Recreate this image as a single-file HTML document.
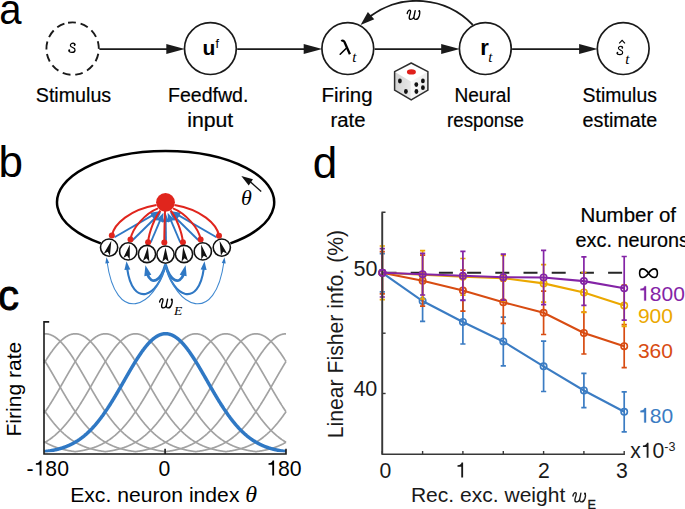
<!DOCTYPE html>
<html><head><meta charset="utf-8"><style>
html,body{margin:0;padding:0;background:#fff;width:685px;height:509px;overflow:hidden;font-family:"Liberation Sans",sans-serif;}
svg{display:block;}
</style></head><body>
<svg width="685" height="509" viewBox="0 0 685 509"><text x="0" y="0" font-family="'Liberation Sans', sans-serif" font-size="42.2" fill="#000" transform="translate(-0.8,24.0) scale(0.95,1)">a</text>
<circle cx="72.6" cy="48.6" r="26.2" fill="none" stroke="#1a1a1a" stroke-width="1.9" stroke-dasharray="7.9 4.75" transform="rotate(-100 72.6 48.6)"/>
<circle cx="210.4" cy="48.6" r="25.9" fill="none" stroke="#1a1a1a" stroke-width="1.7"/>
<circle cx="347.8" cy="48.6" r="25.9" fill="none" stroke="#1a1a1a" stroke-width="1.7"/>
<circle cx="485.3" cy="48.6" r="25.9" fill="none" stroke="#1a1a1a" stroke-width="1.7"/>
<circle cx="623.2" cy="48.6" r="25.9" fill="none" stroke="#1a1a1a" stroke-width="1.7"/>
<line x1="99.4" y1="49.1" x2="168.3" y2="49.1" stroke="#1a1a1a" stroke-width="1.7"/>
<path d="M184.8,49.1 L166.3,44.1 L166.3,54.1 Z" fill="#1a1a1a"/>
<line x1="237.20000000000002" y1="49.1" x2="305.70000000000005" y2="49.1" stroke="#1a1a1a" stroke-width="1.7"/>
<path d="M322.20000000000005,49.1 L303.70000000000005,44.1 L303.70000000000005,54.1 Z" fill="#1a1a1a"/>
<line x1="374.59999999999997" y1="49.1" x2="443.20000000000005" y2="49.1" stroke="#1a1a1a" stroke-width="1.7"/>
<path d="M459.70000000000005,49.1 L441.20000000000005,44.1 L441.20000000000005,54.1 Z" fill="#1a1a1a"/>
<line x1="512.1" y1="49.1" x2="581.1" y2="49.1" stroke="#1a1a1a" stroke-width="1.7"/>
<path d="M597.6,49.1 L579.1,44.1 L579.1,54.1 Z" fill="#1a1a1a"/>
<path d="M472.80,24.89 A77.6,77.6 0 0 0 370.22,16.36" fill="none" stroke="#1a1a1a" stroke-width="1.9"/>
<path d="M360.60,24.89 L367.89,12.01 L374.26,19.19 Z" fill="#1a1a1a"/>
<g transform="translate(406.8,9.5) scale(1.0,1.0)"><path d="M0.4,4.0 C0.9,1.6 2.2,0.5 3.0,0.7 C3.9,0.9 3.9,2.2 3.5,3.6 C3.0,5.2 2.4,6.6 2.4,8.0 C2.4,9.2 3.2,9.9 4.2,9.9 C5.6,9.9 6.6,8.9 7.1,7.6 M8.4,1.2 L7.2,7.0 C6.9,8.6 7.4,9.9 9.0,9.9 C10.6,9.9 11.8,8.4 12.5,6.2 C13.0,4.4 13.2,2.8 12.8,1.6" fill="none" stroke="#000" stroke-width="1.35" stroke-linecap="round"/><ellipse cx="12.45" cy="1.7" rx="0.95" ry="1.1" fill="#000"/></g>
<g transform="translate(68.0,42.9) scale(0.95)"><path d="M7.3,2.1 C7.6,1.0 6.6,0.35 5.4,0.35 C3.6,0.35 2.4,1.4 2.5,2.7 C2.6,4.0 3.9,4.4 5.2,4.9 C6.6,5.4 7.5,6.2 7.4,7.6 C7.3,9.2 5.8,10.0 4.2,10.0 C2.4,10.0 0.9,9.3 0.7,8.0" fill="none" stroke="#000" stroke-width="1.3"/><circle cx="6.95" cy="2.2" r="0.95" fill="#000"/><circle cx="1.35" cy="7.7" r="1.0" fill="#000"/></g>
<text x="202.6" y="55.4" font-family="'Liberation Sans', sans-serif" font-weight="bold" font-size="21" fill="#000">u</text>
<text x="215.4" y="47.8" font-family="'Liberation Sans', sans-serif" font-size="12.6" fill="#000">f</text>
<g transform="translate(339.3,40.2)"><path d="M2.0,1.0 C3.4,-0.1 4.6,0.5 5.3,2.1 L10.6,14.0" fill="none" stroke="#000" stroke-width="2.3"/><path d="M7.0,8.0 L0.9,14.0" fill="none" stroke="#000" stroke-width="1.6" stroke-linecap="round"/></g>
<text x="352.2" y="62" font-family="'Liberation Serif', serif" font-style="italic" font-size="15" fill="#000">t</text>
<text x="480.2" y="54.6" font-family="'Liberation Sans', sans-serif" font-weight="bold" font-size="22" fill="#000">r</text>
<text x="488.2" y="62" font-family="'Liberation Serif', serif" font-style="italic" font-size="15" fill="#000">t</text>
<g transform="translate(616.3,46.0) scale(0.86)"><path d="M7.3,2.1 C7.6,1.0 6.6,0.35 5.4,0.35 C3.6,0.35 2.4,1.4 2.5,2.7 C2.6,4.0 3.9,4.4 5.2,4.9 C6.6,5.4 7.5,6.2 7.4,7.6 C7.3,9.2 5.8,10.0 4.2,10.0 C2.4,10.0 0.9,9.3 0.7,8.0" fill="none" stroke="#000" stroke-width="1.3"/><circle cx="6.95" cy="2.2" r="0.95" fill="#000"/><circle cx="1.35" cy="7.7" r="1.0" fill="#000"/></g>
<path d="M619.2,43.4 L622.1,40.4 L625,43.4" fill="none" stroke="#000" stroke-width="1.1"/>
<text x="625.3" y="63.8" font-family="'Liberation Serif', serif" font-style="italic" font-size="15" fill="#000">t</text>
<text x="35.8" y="101.8" font-family="'Liberation Sans', sans-serif" font-size="20" fill="#000" textLength="75.36" lengthAdjust="spacingAndGlyphs" stroke="#000" stroke-width="0.2">Stimulus</text>
<text x="168" y="101.8" font-family="'Liberation Sans', sans-serif" font-size="20" fill="#000" textLength="80.41" lengthAdjust="spacingAndGlyphs" stroke="#000" stroke-width="0.2">Feedfwd.</text>
<text x="321.5" y="101.8" font-family="'Liberation Sans', sans-serif" font-size="20" fill="#000" textLength="51.02" lengthAdjust="spacingAndGlyphs" stroke="#000" stroke-width="0.2">Firing</text>
<text x="454.4" y="101.8" font-family="'Liberation Sans', sans-serif" font-size="20" fill="#000" textLength="56.24" lengthAdjust="spacingAndGlyphs" stroke="#000" stroke-width="0.2">Neural</text>
<text x="582.6" y="101.8" font-family="'Liberation Sans', sans-serif" font-size="20" fill="#000" textLength="74.31" lengthAdjust="spacingAndGlyphs" stroke="#000" stroke-width="0.2">Stimulus</text>
<text x="187.2" y="126.8" font-family="'Liberation Sans', sans-serif" font-size="20" fill="#000" textLength="46.09" lengthAdjust="spacingAndGlyphs" stroke="#000" stroke-width="0.2">input</text>
<text x="330.5" y="126.8" font-family="'Liberation Sans', sans-serif" font-size="20" fill="#000" textLength="34.96" lengthAdjust="spacingAndGlyphs" stroke="#000" stroke-width="0.2">rate</text>
<text x="447.1" y="126.8" font-family="'Liberation Sans', sans-serif" font-size="20" fill="#000" textLength="76.86" lengthAdjust="spacingAndGlyphs" stroke="#000" stroke-width="0.2">response</text>
<text x="582.6" y="126.8" font-family="'Liberation Sans', sans-serif" font-size="20" fill="#000" textLength="74.59" lengthAdjust="spacingAndGlyphs" stroke="#000" stroke-width="0.2">estimate</text>
<defs><linearGradient id="dl" x1="0" y1="0" x2="1" y2="0.3"><stop offset="0" stop-color="#cfcfcf"/><stop offset="1" stop-color="#e6e6e6"/></linearGradient>
<linearGradient id="dr" x1="0" y1="0" x2="1" y2="0"><stop offset="0" stop-color="#f7f7f7"/><stop offset="1" stop-color="#ececec"/></linearGradient></defs>
<g>
<path d="M411.2,63.0 L427.9,71.6 L427.9,90.2 L411.2,99.9 L394.6,90.2 L394.6,71.6 Z" fill="#fff" stroke="#fff" stroke-width="1"/>
<path d="M394.6,71.8 L410.9,81.6 L410.9,99.9 L394.6,90.2 Z" fill="url(#dl)"/>
<path d="M410.9,81.6 L427.9,71.8 L427.9,90.2 L410.9,99.9 Z" fill="url(#dr)"/>
<path d="M411.2,63.0 L427.9,71.6 L427.9,90.2 L411.2,99.9 L394.6,90.2 L394.6,71.6 Z" fill="none" stroke="#2e2e2e" stroke-width="1.5" stroke-linejoin="round"/>
<ellipse cx="411.4" cy="71.9" rx="4.5" ry="2.7" fill="#e0201b"/>
<ellipse cx="399.9" cy="81" rx="1.9" ry="2.4" fill="#111"/>
<ellipse cx="405.9" cy="91.5" rx="1.9" ry="2.4" fill="#111"/>
<ellipse cx="422.9" cy="80.9" rx="1.9" ry="2.4" fill="#111"/>
<ellipse cx="416.3" cy="84.6" rx="1.9" ry="2.4" fill="#111"/>
<ellipse cx="422.9" cy="87.7" rx="1.9" ry="2.4" fill="#111"/>
<ellipse cx="416.4" cy="91.5" rx="1.9" ry="2.4" fill="#111"/>
</g>
<text x="-1.6" y="177.3" font-family="'Liberation Sans', sans-serif" font-size="44" fill="#000">b</text>
<path d="M100.8,243.4 A108.6,51.3 0 1 1 230.4,243.4" fill="none" stroke="#000" stroke-width="2.5"/>
<line x1="261.2" y1="191.5" x2="250" y2="181.5" stroke="#111" stroke-width="1.4"/>
<path d="M241.30,176.00 L252.97,179.24 L248.74,185.56 Z" fill="#111"/>
<text x="0" y="0" font-family="'Liberation Serif', serif" font-style="italic" font-size="22" fill="#000" transform="translate(240.9,204.9) scale(1.0,1.0)">θ</text>
<line x1="114.5" y1="237.3" x2="154.49" y2="214.17" stroke="#2f78c4" stroke-width="1.9"/>
<path d="M159.69,211.16 L153.42,218.71 L150.02,212.83 Z" fill="#2f78c4"/>
<line x1="132.8" y1="240.0" x2="156.96" y2="216.21" stroke="#2f78c4" stroke-width="1.9"/>
<path d="M161.23,212.00 L157.06,220.88 L152.29,216.04 Z" fill="#2f78c4"/>
<line x1="150.7" y1="242.5" x2="161.06" y2="218.21" stroke="#2f78c4" stroke-width="1.9"/>
<path d="M163.41,212.69 L162.93,222.49 L156.68,219.82 Z" fill="#2f78c4"/>
<line x1="166.0" y1="243.5" x2="165.66" y2="218.90" stroke="#2f78c4" stroke-width="1.9"/>
<path d="M165.57,212.90 L169.10,222.05 L162.30,222.15 Z" fill="#2f78c4"/>
<line x1="180.3" y1="242.5" x2="169.94" y2="218.21" stroke="#2f78c4" stroke-width="1.9"/>
<path d="M167.59,212.69 L174.32,219.82 L168.07,222.49 Z" fill="#2f78c4"/>
<line x1="198.2" y1="240.0" x2="174.04" y2="216.21" stroke="#2f78c4" stroke-width="1.9"/>
<path d="M169.77,212.00 L178.71,216.04 L173.94,220.88 Z" fill="#2f78c4"/>
<line x1="216.5" y1="237.3" x2="176.51" y2="214.17" stroke="#2f78c4" stroke-width="1.9"/>
<path d="M171.31,211.16 L180.98,212.83 L177.58,218.71 Z" fill="#2f78c4"/>
<path d="M111.8,235.6 C114.0,224.0 130.0,209.5 156.5,205.0" fill="none" stroke="#e0251d" stroke-width="2"/>
<path d="M130.5,239.4 C132.0,228.0 146.0,213.0 158.0,208.4" fill="none" stroke="#e0251d" stroke-width="2"/>
<path d="M148.1,242.2 C149.0,232.0 155.0,217.0 160.5,210.5" fill="none" stroke="#e0251d" stroke-width="2"/>
<path d="M164.3,242.4 C164.3,230.0 164.8,218.0 165.0,211.0" fill="none" stroke="#e0251d" stroke-width="2"/>
<path d="M182.9,242.2 C182.0,232.0 176.0,217.0 170.5,210.5" fill="none" stroke="#e0251d" stroke-width="2"/>
<path d="M200.6,239.4 C199.0,228.0 185.0,213.0 173.0,208.4" fill="none" stroke="#e0251d" stroke-width="2"/>
<path d="M219.0,235.8 C217.0,224.0 201.0,209.5 174.5,205.0" fill="none" stroke="#e0251d" stroke-width="2"/>
<circle cx="165.5" cy="202.3" r="9.4" fill="#e0251d"/>
<circle cx="111.8" cy="235.6" r="3.0" fill="#e0251d"/>
<circle cx="130.5" cy="239.4" r="3.0" fill="#e0251d"/>
<circle cx="148.1" cy="242.2" r="3.0" fill="#e0251d"/>
<circle cx="164.3" cy="242.4" r="3.0" fill="#e0251d"/>
<circle cx="182.9" cy="242.2" r="3.0" fill="#e0251d"/>
<circle cx="200.6" cy="239.4" r="3.0" fill="#e0251d"/>
<circle cx="219.0" cy="235.8" r="3.0" fill="#e0251d"/>
<circle cx="109.1" cy="247.6" r="8.6" fill="#fff" stroke="#111" stroke-width="1.6"/>
<path d="M0,-7.2 L3.3,7.5 L0,4.4 L-3.3,7.5 Z" fill="#111" transform="translate(109.1,247.6) rotate(18)"/>
<circle cx="128.2" cy="251.4" r="8.6" fill="#fff" stroke="#111" stroke-width="1.6"/>
<path d="M0,-7.2 L3.3,7.5 L0,4.4 L-3.3,7.5 Z" fill="#111" transform="translate(128.2,251.4) rotate(13)"/>
<circle cx="147.0" cy="254.0" r="8.6" fill="#fff" stroke="#111" stroke-width="1.6"/>
<path d="M0,-7.2 L3.3,7.5 L0,4.4 L-3.3,7.5 Z" fill="#111" transform="translate(147.0,254.0) rotate(6.5)"/>
<circle cx="165.5" cy="254.6" r="8.6" fill="#fff" stroke="#111" stroke-width="1.6"/>
<path d="M0,-7.2 L3.3,7.5 L0,4.4 L-3.3,7.5 Z" fill="#111" transform="translate(165.5,254.6) rotate(0)"/>
<circle cx="184.0" cy="254.0" r="8.6" fill="#fff" stroke="#111" stroke-width="1.6"/>
<path d="M0,-7.2 L3.3,7.5 L0,4.4 L-3.3,7.5 Z" fill="#111" transform="translate(184.0,254.0) rotate(-6.5)"/>
<circle cx="202.8" cy="251.4" r="8.6" fill="#fff" stroke="#111" stroke-width="1.6"/>
<path d="M0,-7.2 L3.3,7.5 L0,4.4 L-3.3,7.5 Z" fill="#111" transform="translate(202.8,251.4) rotate(-13)"/>
<circle cx="221.8" cy="247.6" r="8.6" fill="#fff" stroke="#111" stroke-width="1.6"/>
<path d="M0,-7.2 L3.3,7.5 L0,4.4 L-3.3,7.5 Z" fill="#111" transform="translate(221.8,247.6) rotate(-18)"/>
<path d="M165.5,264.6 C160.91,281.22 151.50,285.70 147.25,274.10" fill="none" stroke="#2f78c4" stroke-width="2.8"/>
<path d="M145.40,265.30 L151.33,274.68 L144.32,276.35 Z" fill="#2f78c4"/>
<path d="M165.5,264.6 C170.09,281.22 179.50,285.70 183.75,274.10" fill="none" stroke="#2f78c4" stroke-width="2.8"/>
<path d="M185.60,265.30 L186.68,276.35 L179.67,274.68 Z" fill="#2f78c4"/>
<path d="M165.5,264.6 C158.38,298.19 132.35,308.01 127.15,268.16" fill="none" stroke="#2f78c4" stroke-width="2.1"/>
<path d="M126.50,261.30 L130.35,269.45 L124.39,270.06 Z" fill="#2f78c4"/>
<path d="M165.5,264.6 C172.62,298.19 198.65,308.01 203.85,268.16" fill="none" stroke="#2f78c4" stroke-width="2.1"/>
<path d="M204.50,261.30 L206.61,270.06 L200.65,269.45 Z" fill="#2f78c4"/>
<path d="M165.5,264.6 C155.23,308.51 115.79,325.74 107.04,261.74" fill="none" stroke="#3f88d0" stroke-width="1.05"/>
<path d="M106.50,257.30 L109.24,263.00 L105.27,263.50 Z" fill="#2f78c4"/>
<path d="M165.5,264.6 C175.77,308.51 215.21,325.74 223.96,261.74" fill="none" stroke="#3f88d0" stroke-width="1.05"/>
<path d="M224.50,257.30 L225.73,263.50 L221.76,263.00 Z" fill="#2f78c4"/>
<g transform="translate(159.2,298.0) scale(1.0,1.0)"><path d="M0.4,4.0 C0.9,1.6 2.2,0.5 3.0,0.7 C3.9,0.9 3.9,2.2 3.5,3.6 C3.0,5.2 2.4,6.6 2.4,8.0 C2.4,9.2 3.2,9.9 4.2,9.9 C5.6,9.9 6.6,8.9 7.1,7.6 M8.4,1.2 L7.2,7.0 C6.9,8.6 7.4,9.9 9.0,9.9 C10.6,9.9 11.8,8.4 12.5,6.2 C13.0,4.4 13.2,2.8 12.8,1.6" fill="none" stroke="#000" stroke-width="1.35" stroke-linecap="round"/><ellipse cx="12.45" cy="1.7" rx="0.95" ry="1.1" fill="#000"/></g>
<text x="173.9" y="315.2" font-family="'Liberation Serif', serif" font-style="italic" font-size="13.5" fill="#000">E</text>
<text x="-1.9" y="310.1" font-family="'Liberation Sans', sans-serif" font-size="42" fill="#000" stroke="#000" stroke-width="0.9">c</text>
<polyline points="44.13,333.84 45.20,333.80 45.53,333.80 45.87,333.82 46.20,333.83 46.54,333.86 46.87,333.90 47.20,333.94 47.54,333.99 47.87,334.05 48.21,334.11 48.54,334.19 48.88,334.27 49.21,334.36 49.55,334.46 49.88,334.56 50.21,334.67 50.55,334.79 50.88,334.92 51.22,335.05 51.55,335.20 51.89,335.35 52.22,335.50 52.56,335.67 52.89,335.84 53.22,336.02 53.56,336.21 53.89,336.40 54.23,336.60 54.56,336.81 54.90,337.03 55.23,337.25 55.57,337.48 55.90,337.72 56.23,337.96 56.57,338.21 56.90,338.47 57.24,338.74 57.57,339.01 57.91,339.29 58.24,339.57 58.58,339.86 58.91,340.16 59.24,340.47 59.58,340.78 59.91,341.10 60.25,341.42 60.58,341.75 60.92,342.09 61.25,342.43 61.59,342.78 61.92,343.14 62.25,343.50 62.59,343.87 62.92,344.24 63.26,344.62 63.59,345.00 63.93,345.40 64.26,345.79 64.60,346.19 64.93,346.60 65.26,347.01 65.60,347.43 65.93,347.85 66.27,348.28 66.60,348.71 66.94,349.15 67.27,349.60 67.61,350.04 67.94,350.50 68.28,350.95 68.61,351.42 68.94,351.88 69.28,352.35 69.61,352.83 69.95,353.31 70.28,353.79 70.62,354.28 70.95,354.77 71.29,355.27 71.62,355.77 71.95,356.27 72.29,356.78 72.62,357.29 72.96,357.80 73.29,358.32 73.63,358.84 73.96,359.37 74.30,359.89 74.63,360.42 74.96,360.96 75.30,361.50 75.63,362.03 75.97,362.58 76.30,363.12 76.64,363.67 76.97,364.22 77.31,364.77 77.64,365.32 77.97,365.88 78.31,366.44 78.64,367.00 78.98,367.56 79.31,368.13 79.65,368.70 79.98,369.26 80.32,369.83 80.65,370.41 80.98,370.98 81.32,371.55 81.65,372.13 81.99,372.70 82.32,373.28 82.66,373.86 82.99,374.44 83.33,375.02 83.66,375.60 83.99,376.19 84.33,376.77 84.66,377.35 85.00,377.94 85.33,378.52 85.67,379.10 86.00,379.69 86.34,380.27 86.67,380.86 87.00,381.44 87.34,382.03 87.67,382.61 88.01,383.20 88.34,383.78 88.68,384.37 89.01,384.95 89.35,385.53 89.68,386.11 90.01,386.70 90.35,387.28 90.68,387.86 91.02,388.44 91.35,389.02 91.69,389.59 92.02,390.17 92.36,390.74 92.69,391.32 93.02,391.89 93.36,392.46 93.69,393.03 94.03,393.60 94.36,394.17 94.70,394.73 95.03,395.30 95.37,395.86 95.70,396.42 96.03,396.98 96.37,397.54 96.70,398.09 97.04,398.64 97.37,399.19 97.71,399.74 98.04,400.29 98.38,400.83 98.71,401.38 99.04,401.92 99.38,402.46 99.71,402.99 100.05,403.52 100.38,404.05 100.72,404.58 101.05,405.11 101.39,405.63 101.72,406.15 102.05,406.67 102.39,407.19 102.72,407.70 103.06,408.21 103.39,408.72 103.73,409.22 104.06,409.72 104.40,410.22 104.73,410.72 105.06,411.21 105.40,411.70 105.73,412.18 106.07,412.67 106.40,413.15 106.74,413.63 107.07,414.10 107.41,414.57 107.74,415.04 108.07,415.50 108.41,415.97 108.74,416.42 109.08,416.88 109.41,417.33 109.75,417.78 110.08,418.23 110.42,418.67 110.75,419.11 111.08,419.54 111.42,419.97 111.75,420.40 112.09,420.83 112.42,421.25 112.76,421.67 113.09,422.08 113.43,422.50 113.76,422.90 114.09,423.31 114.43,423.71 114.76,424.11 115.10,424.50 115.43,424.89 115.77,425.28 116.10,425.67 116.44,426.05 116.77,426.42 117.10,426.80 117.44,427.17 117.77,427.53 118.11,427.90 118.44,428.26 118.78,428.61 119.11,428.97 119.45,429.32 119.78,429.66 120.11,430.01 120.45,430.34 120.78,430.68 121.12,431.01 121.45,431.34 121.79,431.67 122.12,431.99 122.46,432.31 122.79,432.62 123.12,432.93 123.46,433.24 123.79,433.55 124.13,433.85 124.46,434.15 124.80,434.44 125.13,434.73 125.47,435.02 125.80,435.31 126.13,435.59 126.47,435.87 126.80,436.14 127.14,436.42 127.47,436.69 127.81,436.95 128.14,437.21 128.48,437.47 128.81,437.73 129.14,437.98 129.48,438.23 129.81,438.48 130.15,438.72 130.48,438.96 130.82,439.20 131.15,439.44 131.49,439.67 131.82,439.90 132.16,440.12 132.49,440.35 132.82,440.57 133.16,440.78 133.49,441.00 133.83,441.21 134.16,441.42 134.50,441.63 134.83,441.83 135.17,442.03 135.50,442.23 135.83,442.42 136.17,442.61 136.50,442.80 136.84,442.99 137.17,443.17 137.51,443.36 137.84,443.53 138.18,443.71 138.51,443.88 138.84,444.06 139.18,444.22 139.51,444.39 139.85,444.56 140.18,444.72 140.52,444.88 140.85,445.03 141.19,445.19 141.52,445.34 141.85,445.49 142.19,445.64 142.52,445.78 142.86,445.93 143.19,446.07 143.53,446.20 143.86,446.34 144.20,446.48 144.53,446.61 144.86,446.74 145.20,446.87 145.53,446.99 145.87,447.12 146.20,447.24 146.54,447.36 146.87,447.48 147.21,447.59 147.54,447.71 147.87,447.82 148.21,447.93 148.54,448.04 148.88,448.15 149.21,448.25 149.55,448.35 149.88,448.46 150.22,448.55 150.55,448.65 150.88,448.75 151.22,448.84 151.55,448.94 151.89,449.03 152.22,449.12 152.56,449.21 152.89,449.29 153.23,449.38 153.56,449.46 153.89,449.54 154.23,449.63 154.56,449.70 154.90,449.78 155.23,449.86 155.57,449.93 155.90,450.01 156.24,450.08 156.57,450.15 156.90,450.22 157.24,450.29 157.57,450.36 157.91,450.42 158.24,450.49 158.58,450.55 158.91,450.61 159.25,450.67 159.58,450.73 159.91,450.79 160.25,450.85 160.58,450.91 160.92,450.96 161.25,451.02 161.59,451.07 161.92,451.12 162.26,451.17 162.59,451.22 162.92,451.27 163.26,451.32 163.59,451.37 163.93,451.41 164.26,451.46 164.60,451.50 164.93,451.55 165.27,451.59 165.60,451.63 165.93,451.59 166.27,451.55 166.60,451.50 166.94,451.46 167.27,451.41 167.61,451.37 167.94,451.32 168.28,451.27 168.61,451.22 168.94,451.17 169.28,451.12 169.61,451.07 169.95,451.02 170.28,450.96 170.62,450.91 170.95,450.85 171.29,450.79 171.62,450.73 171.95,450.67 172.29,450.61 172.62,450.55 172.96,450.49 173.29,450.42 173.63,450.36 173.96,450.29 174.30,450.22 174.63,450.15 174.96,450.08 175.30,450.01 175.63,449.93 175.97,449.86 176.30,449.78 176.64,449.70 176.97,449.63 177.31,449.54 177.64,449.46 177.97,449.38 178.31,449.29 178.64,449.21 178.98,449.12 179.31,449.03 179.65,448.94 179.98,448.84 180.32,448.75 180.65,448.65 180.98,448.55 181.32,448.46 181.65,448.35 181.99,448.25 182.32,448.15 182.66,448.04 182.99,447.93 183.33,447.82 183.66,447.71 183.99,447.59 184.33,447.48 184.66,447.36 185.00,447.24 185.33,447.12 185.67,446.99 186.00,446.87 186.34,446.74 186.67,446.61 187.00,446.48 187.34,446.34 187.67,446.20 188.01,446.07 188.34,445.93 188.68,445.78 189.01,445.64 189.35,445.49 189.68,445.34 190.01,445.19 190.35,445.03 190.68,444.88 191.02,444.72 191.35,444.56 191.69,444.39 192.02,444.22 192.36,444.06 192.69,443.88 193.02,443.71 193.36,443.53 193.69,443.36 194.03,443.17 194.36,442.99 194.70,442.80 195.03,442.61 195.37,442.42 195.70,442.23 196.03,442.03 196.37,441.83 196.70,441.63 197.04,441.42 197.37,441.21 197.71,441.00 198.04,440.78 198.38,440.57 198.71,440.35 199.04,440.12 199.38,439.90 199.71,439.67 200.05,439.44 200.38,439.20 200.72,438.96 201.05,438.72 201.39,438.48 201.72,438.23 202.06,437.98 202.39,437.73 202.72,437.47 203.06,437.21 203.39,436.95 203.73,436.69 204.06,436.42 204.40,436.14 204.73,435.87 205.07,435.59 205.40,435.31 205.73,435.02 206.07,434.73 206.40,434.44 206.74,434.15 207.07,433.85 207.41,433.55 207.74,433.24 208.08,432.93 208.41,432.62 208.74,432.31 209.08,431.99 209.41,431.67 209.75,431.34 210.08,431.01 210.42,430.68 210.75,430.34 211.09,430.01 211.42,429.66 211.75,429.32 212.09,428.97 212.42,428.61 212.76,428.26 213.09,427.90 213.43,427.53 213.76,427.17 214.10,426.80 214.43,426.42 214.76,426.05 215.10,425.67 215.43,425.28 215.77,424.89 216.10,424.50 216.44,424.11 216.77,423.71 217.11,423.31 217.44,422.90 217.77,422.50 218.11,422.08 218.44,421.67 218.78,421.25 219.11,420.83 219.45,420.40 219.78,419.97 220.12,419.54 220.45,419.11 220.78,418.67 221.12,418.23 221.45,417.78 221.79,417.33 222.12,416.88 222.46,416.42 222.79,415.97 223.13,415.50 223.46,415.04 223.79,414.57 224.13,414.10 224.46,413.63 224.80,413.15 225.13,412.67 225.47,412.18 225.80,411.70 226.14,411.21 226.47,410.72 226.80,410.22 227.14,409.72 227.47,409.22 227.81,408.72 228.14,408.21 228.48,407.70 228.81,407.19 229.15,406.67 229.48,406.15 229.81,405.63 230.15,405.11 230.48,404.58 230.82,404.05 231.15,403.52 231.49,402.99 231.82,402.46 232.16,401.92 232.49,401.38 232.82,400.83 233.16,400.29 233.49,399.74 233.83,399.19 234.16,398.64 234.50,398.09 234.83,397.54 235.17,396.98 235.50,396.42 235.83,395.86 236.17,395.30 236.50,394.73 236.84,394.17 237.17,393.60 237.51,393.03 237.84,392.46 238.18,391.89 238.51,391.32 238.84,390.74 239.18,390.17 239.51,389.59 239.85,389.02 240.18,388.44 240.52,387.86 240.85,387.28 241.19,386.70 241.52,386.11 241.85,385.53 242.19,384.95 242.52,384.37 242.86,383.78 243.19,383.20 243.53,382.61 243.86,382.03 244.20,381.44 244.53,380.86 244.86,380.27 245.20,379.69 245.53,379.10 245.87,378.52 246.20,377.94 246.54,377.35 246.87,376.77 247.21,376.19 247.54,375.60 247.87,375.02 248.21,374.44 248.54,373.86 248.88,373.28 249.21,372.70 249.55,372.13 249.88,371.55 250.22,370.98 250.55,370.41 250.88,369.83 251.22,369.26 251.55,368.70 251.89,368.13 252.22,367.56 252.56,367.00 252.89,366.44 253.23,365.88 253.56,365.32 253.89,364.77 254.23,364.22 254.56,363.67 254.90,363.12 255.23,362.58 255.57,362.03 255.90,361.50 256.24,360.96 256.57,360.42 256.90,359.89 257.24,359.37 257.57,358.84 257.91,358.32 258.24,357.80 258.58,357.29 258.91,356.78 259.25,356.27 259.58,355.77 259.91,355.27 260.25,354.77 260.58,354.28 260.92,353.79 261.25,353.31 261.59,352.83 261.92,352.35 262.26,351.88 262.59,351.42 262.92,350.95 263.26,350.50 263.59,350.04 263.93,349.60 264.26,349.15 264.60,348.71 264.93,348.28 265.27,347.85 265.60,347.43 265.94,347.01 266.27,346.60 266.60,346.19 266.94,345.79 267.27,345.40 267.61,345.00 267.94,344.62 268.28,344.24 268.61,343.87 268.95,343.50 269.28,343.14 269.61,342.78 269.95,342.43 270.28,342.09 270.62,341.75 270.95,341.42 271.29,341.10 271.62,340.78 271.96,340.47 272.29,340.16 272.62,339.86 272.96,339.57 273.29,339.29 273.63,339.01 273.96,338.74 274.30,338.47 274.63,338.21 274.97,337.96 275.30,337.72 275.63,337.48 275.97,337.25 276.30,337.03 276.64,336.81 276.97,336.60 277.31,336.40 277.64,336.21 277.98,336.02 278.31,335.84 278.64,335.67 278.98,335.50 279.31,335.35 279.65,335.20 279.98,335.05 280.32,334.92 280.65,334.79 280.99,334.67 281.32,334.56 281.65,334.46 281.99,334.36 282.32,334.27 282.66,334.19 282.99,334.11 283.33,334.05 283.66,333.99 284.00,333.94 284.33,333.90 284.66,333.86 285.00,333.83 285.33,333.82 285.67,333.80 286.00,333.80" fill="none" stroke="#a2a2a2" stroke-width="1.7"/>
<polyline points="44.13,363.23 45.20,361.50 45.53,360.96 45.87,360.42 46.20,359.89 46.54,359.37 46.87,358.84 47.20,358.32 47.54,357.80 47.87,357.29 48.21,356.78 48.54,356.27 48.88,355.77 49.21,355.27 49.55,354.77 49.88,354.28 50.21,353.79 50.55,353.31 50.88,352.83 51.22,352.35 51.55,351.88 51.89,351.42 52.22,350.95 52.56,350.50 52.89,350.04 53.22,349.60 53.56,349.15 53.89,348.71 54.23,348.28 54.56,347.85 54.90,347.43 55.23,347.01 55.57,346.60 55.90,346.19 56.23,345.79 56.57,345.40 56.90,345.00 57.24,344.62 57.57,344.24 57.91,343.87 58.24,343.50 58.58,343.14 58.91,342.78 59.24,342.43 59.58,342.09 59.91,341.75 60.25,341.42 60.58,341.10 60.92,340.78 61.25,340.47 61.59,340.16 61.92,339.86 62.25,339.57 62.59,339.29 62.92,339.01 63.26,338.74 63.59,338.47 63.93,338.21 64.26,337.96 64.60,337.72 64.93,337.48 65.26,337.25 65.60,337.03 65.93,336.81 66.27,336.60 66.60,336.40 66.94,336.21 67.27,336.02 67.61,335.84 67.94,335.67 68.28,335.50 68.61,335.35 68.94,335.20 69.28,335.05 69.61,334.92 69.95,334.79 70.28,334.67 70.62,334.56 70.95,334.46 71.29,334.36 71.62,334.27 71.95,334.19 72.29,334.11 72.62,334.05 72.96,333.99 73.29,333.94 73.63,333.90 73.96,333.86 74.30,333.83 74.63,333.82 74.96,333.80 75.30,333.80 75.63,333.80 75.97,333.82 76.30,333.83 76.64,333.86 76.97,333.90 77.31,333.94 77.64,333.99 77.97,334.05 78.31,334.11 78.64,334.19 78.98,334.27 79.31,334.36 79.65,334.46 79.98,334.56 80.32,334.67 80.65,334.79 80.98,334.92 81.32,335.05 81.65,335.20 81.99,335.35 82.32,335.50 82.66,335.67 82.99,335.84 83.33,336.02 83.66,336.21 83.99,336.40 84.33,336.60 84.66,336.81 85.00,337.03 85.33,337.25 85.67,337.48 86.00,337.72 86.34,337.96 86.67,338.21 87.00,338.47 87.34,338.74 87.67,339.01 88.01,339.29 88.34,339.57 88.68,339.86 89.01,340.16 89.35,340.47 89.68,340.78 90.01,341.10 90.35,341.42 90.68,341.75 91.02,342.09 91.35,342.43 91.69,342.78 92.02,343.14 92.36,343.50 92.69,343.87 93.02,344.24 93.36,344.62 93.69,345.00 94.03,345.40 94.36,345.79 94.70,346.19 95.03,346.60 95.37,347.01 95.70,347.43 96.03,347.85 96.37,348.28 96.70,348.71 97.04,349.15 97.37,349.60 97.71,350.04 98.04,350.50 98.38,350.95 98.71,351.42 99.04,351.88 99.38,352.35 99.71,352.83 100.05,353.31 100.38,353.79 100.72,354.28 101.05,354.77 101.39,355.27 101.72,355.77 102.05,356.27 102.39,356.78 102.72,357.29 103.06,357.80 103.39,358.32 103.73,358.84 104.06,359.37 104.40,359.89 104.73,360.42 105.06,360.96 105.40,361.50 105.73,362.03 106.07,362.58 106.40,363.12 106.74,363.67 107.07,364.22 107.41,364.77 107.74,365.32 108.07,365.88 108.41,366.44 108.74,367.00 109.08,367.56 109.41,368.13 109.75,368.70 110.08,369.26 110.42,369.83 110.75,370.41 111.08,370.98 111.42,371.55 111.75,372.13 112.09,372.70 112.42,373.28 112.76,373.86 113.09,374.44 113.43,375.02 113.76,375.60 114.09,376.19 114.43,376.77 114.76,377.35 115.10,377.94 115.43,378.52 115.77,379.10 116.10,379.69 116.44,380.27 116.77,380.86 117.10,381.44 117.44,382.03 117.77,382.61 118.11,383.20 118.44,383.78 118.78,384.37 119.11,384.95 119.45,385.53 119.78,386.11 120.11,386.70 120.45,387.28 120.78,387.86 121.12,388.44 121.45,389.02 121.79,389.59 122.12,390.17 122.46,390.74 122.79,391.32 123.12,391.89 123.46,392.46 123.79,393.03 124.13,393.60 124.46,394.17 124.80,394.73 125.13,395.30 125.47,395.86 125.80,396.42 126.13,396.98 126.47,397.54 126.80,398.09 127.14,398.64 127.47,399.19 127.81,399.74 128.14,400.29 128.48,400.83 128.81,401.38 129.14,401.92 129.48,402.46 129.81,402.99 130.15,403.52 130.48,404.05 130.82,404.58 131.15,405.11 131.49,405.63 131.82,406.15 132.16,406.67 132.49,407.19 132.82,407.70 133.16,408.21 133.49,408.72 133.83,409.22 134.16,409.72 134.50,410.22 134.83,410.72 135.17,411.21 135.50,411.70 135.83,412.18 136.17,412.67 136.50,413.15 136.84,413.63 137.17,414.10 137.51,414.57 137.84,415.04 138.18,415.50 138.51,415.97 138.84,416.42 139.18,416.88 139.51,417.33 139.85,417.78 140.18,418.23 140.52,418.67 140.85,419.11 141.19,419.54 141.52,419.97 141.85,420.40 142.19,420.83 142.52,421.25 142.86,421.67 143.19,422.08 143.53,422.50 143.86,422.90 144.20,423.31 144.53,423.71 144.86,424.11 145.20,424.50 145.53,424.89 145.87,425.28 146.20,425.67 146.54,426.05 146.87,426.42 147.21,426.80 147.54,427.17 147.87,427.53 148.21,427.90 148.54,428.26 148.88,428.61 149.21,428.97 149.55,429.32 149.88,429.66 150.22,430.01 150.55,430.34 150.88,430.68 151.22,431.01 151.55,431.34 151.89,431.67 152.22,431.99 152.56,432.31 152.89,432.62 153.23,432.93 153.56,433.24 153.89,433.55 154.23,433.85 154.56,434.15 154.90,434.44 155.23,434.73 155.57,435.02 155.90,435.31 156.24,435.59 156.57,435.87 156.90,436.14 157.24,436.42 157.57,436.69 157.91,436.95 158.24,437.21 158.58,437.47 158.91,437.73 159.25,437.98 159.58,438.23 159.91,438.48 160.25,438.72 160.58,438.96 160.92,439.20 161.25,439.44 161.59,439.67 161.92,439.90 162.26,440.12 162.59,440.35 162.92,440.57 163.26,440.78 163.59,441.00 163.93,441.21 164.26,441.42 164.60,441.63 164.93,441.83 165.27,442.03 165.60,442.23 165.93,442.42 166.27,442.61 166.60,442.80 166.94,442.99 167.27,443.17 167.61,443.36 167.94,443.53 168.28,443.71 168.61,443.88 168.94,444.06 169.28,444.22 169.61,444.39 169.95,444.56 170.28,444.72 170.62,444.88 170.95,445.03 171.29,445.19 171.62,445.34 171.95,445.49 172.29,445.64 172.62,445.78 172.96,445.93 173.29,446.07 173.63,446.20 173.96,446.34 174.30,446.48 174.63,446.61 174.96,446.74 175.30,446.87 175.63,446.99 175.97,447.12 176.30,447.24 176.64,447.36 176.97,447.48 177.31,447.59 177.64,447.71 177.97,447.82 178.31,447.93 178.64,448.04 178.98,448.15 179.31,448.25 179.65,448.35 179.98,448.46 180.32,448.55 180.65,448.65 180.98,448.75 181.32,448.84 181.65,448.94 181.99,449.03 182.32,449.12 182.66,449.21 182.99,449.29 183.33,449.38 183.66,449.46 183.99,449.54 184.33,449.63 184.66,449.70 185.00,449.78 185.33,449.86 185.67,449.93 186.00,450.01 186.34,450.08 186.67,450.15 187.00,450.22 187.34,450.29 187.67,450.36 188.01,450.42 188.34,450.49 188.68,450.55 189.01,450.61 189.35,450.67 189.68,450.73 190.01,450.79 190.35,450.85 190.68,450.91 191.02,450.96 191.35,451.02 191.69,451.07 192.02,451.12 192.36,451.17 192.69,451.22 193.02,451.27 193.36,451.32 193.69,451.37 194.03,451.41 194.36,451.46 194.70,451.50 195.03,451.55 195.37,451.59 195.70,451.63 196.03,451.59 196.37,451.55 196.70,451.50 197.04,451.46 197.37,451.41 197.71,451.37 198.04,451.32 198.38,451.27 198.71,451.22 199.04,451.17 199.38,451.12 199.71,451.07 200.05,451.02 200.38,450.96 200.72,450.91 201.05,450.85 201.39,450.79 201.72,450.73 202.06,450.67 202.39,450.61 202.72,450.55 203.06,450.49 203.39,450.42 203.73,450.36 204.06,450.29 204.40,450.22 204.73,450.15 205.07,450.08 205.40,450.01 205.73,449.93 206.07,449.86 206.40,449.78 206.74,449.70 207.07,449.63 207.41,449.54 207.74,449.46 208.08,449.38 208.41,449.29 208.74,449.21 209.08,449.12 209.41,449.03 209.75,448.94 210.08,448.84 210.42,448.75 210.75,448.65 211.09,448.55 211.42,448.46 211.75,448.35 212.09,448.25 212.42,448.15 212.76,448.04 213.09,447.93 213.43,447.82 213.76,447.71 214.10,447.59 214.43,447.48 214.76,447.36 215.10,447.24 215.43,447.12 215.77,446.99 216.10,446.87 216.44,446.74 216.77,446.61 217.11,446.48 217.44,446.34 217.77,446.20 218.11,446.07 218.44,445.93 218.78,445.78 219.11,445.64 219.45,445.49 219.78,445.34 220.12,445.19 220.45,445.03 220.78,444.88 221.12,444.72 221.45,444.56 221.79,444.39 222.12,444.22 222.46,444.06 222.79,443.88 223.13,443.71 223.46,443.53 223.79,443.36 224.13,443.17 224.46,442.99 224.80,442.80 225.13,442.61 225.47,442.42 225.80,442.23 226.14,442.03 226.47,441.83 226.80,441.63 227.14,441.42 227.47,441.21 227.81,441.00 228.14,440.78 228.48,440.57 228.81,440.35 229.15,440.12 229.48,439.90 229.81,439.67 230.15,439.44 230.48,439.20 230.82,438.96 231.15,438.72 231.49,438.48 231.82,438.23 232.16,437.98 232.49,437.73 232.82,437.47 233.16,437.21 233.49,436.95 233.83,436.69 234.16,436.42 234.50,436.14 234.83,435.87 235.17,435.59 235.50,435.31 235.83,435.02 236.17,434.73 236.50,434.44 236.84,434.15 237.17,433.85 237.51,433.55 237.84,433.24 238.18,432.93 238.51,432.62 238.84,432.31 239.18,431.99 239.51,431.67 239.85,431.34 240.18,431.01 240.52,430.68 240.85,430.34 241.19,430.01 241.52,429.66 241.85,429.32 242.19,428.97 242.52,428.61 242.86,428.26 243.19,427.90 243.53,427.53 243.86,427.17 244.20,426.80 244.53,426.42 244.86,426.05 245.20,425.67 245.53,425.28 245.87,424.89 246.20,424.50 246.54,424.11 246.87,423.71 247.21,423.31 247.54,422.90 247.87,422.50 248.21,422.08 248.54,421.67 248.88,421.25 249.21,420.83 249.55,420.40 249.88,419.97 250.22,419.54 250.55,419.11 250.88,418.67 251.22,418.23 251.55,417.78 251.89,417.33 252.22,416.88 252.56,416.42 252.89,415.97 253.23,415.50 253.56,415.04 253.89,414.57 254.23,414.10 254.56,413.63 254.90,413.15 255.23,412.67 255.57,412.18 255.90,411.70 256.24,411.21 256.57,410.72 256.90,410.22 257.24,409.72 257.57,409.22 257.91,408.72 258.24,408.21 258.58,407.70 258.91,407.19 259.25,406.67 259.58,406.15 259.91,405.63 260.25,405.11 260.58,404.58 260.92,404.05 261.25,403.52 261.59,402.99 261.92,402.46 262.26,401.92 262.59,401.38 262.92,400.83 263.26,400.29 263.59,399.74 263.93,399.19 264.26,398.64 264.60,398.09 264.93,397.54 265.27,396.98 265.60,396.42 265.94,395.86 266.27,395.30 266.60,394.73 266.94,394.17 267.27,393.60 267.61,393.03 267.94,392.46 268.28,391.89 268.61,391.32 268.95,390.74 269.28,390.17 269.61,389.59 269.95,389.02 270.28,388.44 270.62,387.86 270.95,387.28 271.29,386.70 271.62,386.11 271.96,385.53 272.29,384.95 272.62,384.37 272.96,383.78 273.29,383.20 273.63,382.61 273.96,382.03 274.30,381.44 274.63,380.86 274.97,380.27 275.30,379.69 275.63,379.10 275.97,378.52 276.30,377.94 276.64,377.35 276.97,376.77 277.31,376.19 277.64,375.60 277.98,375.02 278.31,374.44 278.64,373.86 278.98,373.28 279.31,372.70 279.65,372.13 279.98,371.55 280.32,370.98 280.65,370.41 280.99,369.83 281.32,369.26 281.65,368.70 281.99,368.13 282.32,367.56 282.66,367.00 282.99,366.44 283.33,365.88 283.66,365.32 284.00,364.77 284.33,364.22 284.66,363.67 285.00,363.12 285.33,362.58 285.67,362.03 286.00,361.50" fill="none" stroke="#a2a2a2" stroke-width="1.7"/>
<polyline points="44.13,413.24 45.20,411.70 45.53,411.21 45.87,410.72 46.20,410.22 46.54,409.72 46.87,409.22 47.20,408.72 47.54,408.21 47.87,407.70 48.21,407.19 48.54,406.67 48.88,406.15 49.21,405.63 49.55,405.11 49.88,404.58 50.21,404.05 50.55,403.52 50.88,402.99 51.22,402.46 51.55,401.92 51.89,401.38 52.22,400.83 52.56,400.29 52.89,399.74 53.22,399.19 53.56,398.64 53.89,398.09 54.23,397.54 54.56,396.98 54.90,396.42 55.23,395.86 55.57,395.30 55.90,394.73 56.23,394.17 56.57,393.60 56.90,393.03 57.24,392.46 57.57,391.89 57.91,391.32 58.24,390.74 58.58,390.17 58.91,389.59 59.24,389.02 59.58,388.44 59.91,387.86 60.25,387.28 60.58,386.70 60.92,386.11 61.25,385.53 61.59,384.95 61.92,384.37 62.25,383.78 62.59,383.20 62.92,382.61 63.26,382.03 63.59,381.44 63.93,380.86 64.26,380.27 64.60,379.69 64.93,379.10 65.26,378.52 65.60,377.94 65.93,377.35 66.27,376.77 66.60,376.19 66.94,375.60 67.27,375.02 67.61,374.44 67.94,373.86 68.28,373.28 68.61,372.70 68.94,372.13 69.28,371.55 69.61,370.98 69.95,370.41 70.28,369.83 70.62,369.26 70.95,368.70 71.29,368.13 71.62,367.56 71.95,367.00 72.29,366.44 72.62,365.88 72.96,365.32 73.29,364.77 73.63,364.22 73.96,363.67 74.30,363.12 74.63,362.58 74.96,362.03 75.30,361.50 75.63,360.96 75.97,360.42 76.30,359.89 76.64,359.37 76.97,358.84 77.31,358.32 77.64,357.80 77.97,357.29 78.31,356.78 78.64,356.27 78.98,355.77 79.31,355.27 79.65,354.77 79.98,354.28 80.32,353.79 80.65,353.31 80.98,352.83 81.32,352.35 81.65,351.88 81.99,351.42 82.32,350.95 82.66,350.50 82.99,350.04 83.33,349.60 83.66,349.15 83.99,348.71 84.33,348.28 84.66,347.85 85.00,347.43 85.33,347.01 85.67,346.60 86.00,346.19 86.34,345.79 86.67,345.40 87.00,345.00 87.34,344.62 87.67,344.24 88.01,343.87 88.34,343.50 88.68,343.14 89.01,342.78 89.35,342.43 89.68,342.09 90.01,341.75 90.35,341.42 90.68,341.10 91.02,340.78 91.35,340.47 91.69,340.16 92.02,339.86 92.36,339.57 92.69,339.29 93.02,339.01 93.36,338.74 93.69,338.47 94.03,338.21 94.36,337.96 94.70,337.72 95.03,337.48 95.37,337.25 95.70,337.03 96.03,336.81 96.37,336.60 96.70,336.40 97.04,336.21 97.37,336.02 97.71,335.84 98.04,335.67 98.38,335.50 98.71,335.35 99.04,335.20 99.38,335.05 99.71,334.92 100.05,334.79 100.38,334.67 100.72,334.56 101.05,334.46 101.39,334.36 101.72,334.27 102.05,334.19 102.39,334.11 102.72,334.05 103.06,333.99 103.39,333.94 103.73,333.90 104.06,333.86 104.40,333.83 104.73,333.82 105.06,333.80 105.40,333.80 105.73,333.80 106.07,333.82 106.40,333.83 106.74,333.86 107.07,333.90 107.41,333.94 107.74,333.99 108.07,334.05 108.41,334.11 108.74,334.19 109.08,334.27 109.41,334.36 109.75,334.46 110.08,334.56 110.42,334.67 110.75,334.79 111.08,334.92 111.42,335.05 111.75,335.20 112.09,335.35 112.42,335.50 112.76,335.67 113.09,335.84 113.43,336.02 113.76,336.21 114.09,336.40 114.43,336.60 114.76,336.81 115.10,337.03 115.43,337.25 115.77,337.48 116.10,337.72 116.44,337.96 116.77,338.21 117.10,338.47 117.44,338.74 117.77,339.01 118.11,339.29 118.44,339.57 118.78,339.86 119.11,340.16 119.45,340.47 119.78,340.78 120.11,341.10 120.45,341.42 120.78,341.75 121.12,342.09 121.45,342.43 121.79,342.78 122.12,343.14 122.46,343.50 122.79,343.87 123.12,344.24 123.46,344.62 123.79,345.00 124.13,345.40 124.46,345.79 124.80,346.19 125.13,346.60 125.47,347.01 125.80,347.43 126.13,347.85 126.47,348.28 126.80,348.71 127.14,349.15 127.47,349.60 127.81,350.04 128.14,350.50 128.48,350.95 128.81,351.42 129.14,351.88 129.48,352.35 129.81,352.83 130.15,353.31 130.48,353.79 130.82,354.28 131.15,354.77 131.49,355.27 131.82,355.77 132.16,356.27 132.49,356.78 132.82,357.29 133.16,357.80 133.49,358.32 133.83,358.84 134.16,359.37 134.50,359.89 134.83,360.42 135.17,360.96 135.50,361.50 135.83,362.03 136.17,362.58 136.50,363.12 136.84,363.67 137.17,364.22 137.51,364.77 137.84,365.32 138.18,365.88 138.51,366.44 138.84,367.00 139.18,367.56 139.51,368.13 139.85,368.70 140.18,369.26 140.52,369.83 140.85,370.41 141.19,370.98 141.52,371.55 141.85,372.13 142.19,372.70 142.52,373.28 142.86,373.86 143.19,374.44 143.53,375.02 143.86,375.60 144.20,376.19 144.53,376.77 144.86,377.35 145.20,377.94 145.53,378.52 145.87,379.10 146.20,379.69 146.54,380.27 146.87,380.86 147.21,381.44 147.54,382.03 147.87,382.61 148.21,383.20 148.54,383.78 148.88,384.37 149.21,384.95 149.55,385.53 149.88,386.11 150.22,386.70 150.55,387.28 150.88,387.86 151.22,388.44 151.55,389.02 151.89,389.59 152.22,390.17 152.56,390.74 152.89,391.32 153.23,391.89 153.56,392.46 153.89,393.03 154.23,393.60 154.56,394.17 154.90,394.73 155.23,395.30 155.57,395.86 155.90,396.42 156.24,396.98 156.57,397.54 156.90,398.09 157.24,398.64 157.57,399.19 157.91,399.74 158.24,400.29 158.58,400.83 158.91,401.38 159.25,401.92 159.58,402.46 159.91,402.99 160.25,403.52 160.58,404.05 160.92,404.58 161.25,405.11 161.59,405.63 161.92,406.15 162.26,406.67 162.59,407.19 162.92,407.70 163.26,408.21 163.59,408.72 163.93,409.22 164.26,409.72 164.60,410.22 164.93,410.72 165.27,411.21 165.60,411.70 165.93,412.18 166.27,412.67 166.60,413.15 166.94,413.63 167.27,414.10 167.61,414.57 167.94,415.04 168.28,415.50 168.61,415.97 168.94,416.42 169.28,416.88 169.61,417.33 169.95,417.78 170.28,418.23 170.62,418.67 170.95,419.11 171.29,419.54 171.62,419.97 171.95,420.40 172.29,420.83 172.62,421.25 172.96,421.67 173.29,422.08 173.63,422.50 173.96,422.90 174.30,423.31 174.63,423.71 174.96,424.11 175.30,424.50 175.63,424.89 175.97,425.28 176.30,425.67 176.64,426.05 176.97,426.42 177.31,426.80 177.64,427.17 177.97,427.53 178.31,427.90 178.64,428.26 178.98,428.61 179.31,428.97 179.65,429.32 179.98,429.66 180.32,430.01 180.65,430.34 180.98,430.68 181.32,431.01 181.65,431.34 181.99,431.67 182.32,431.99 182.66,432.31 182.99,432.62 183.33,432.93 183.66,433.24 183.99,433.55 184.33,433.85 184.66,434.15 185.00,434.44 185.33,434.73 185.67,435.02 186.00,435.31 186.34,435.59 186.67,435.87 187.00,436.14 187.34,436.42 187.67,436.69 188.01,436.95 188.34,437.21 188.68,437.47 189.01,437.73 189.35,437.98 189.68,438.23 190.01,438.48 190.35,438.72 190.68,438.96 191.02,439.20 191.35,439.44 191.69,439.67 192.02,439.90 192.36,440.12 192.69,440.35 193.02,440.57 193.36,440.78 193.69,441.00 194.03,441.21 194.36,441.42 194.70,441.63 195.03,441.83 195.37,442.03 195.70,442.23 196.03,442.42 196.37,442.61 196.70,442.80 197.04,442.99 197.37,443.17 197.71,443.36 198.04,443.53 198.38,443.71 198.71,443.88 199.04,444.06 199.38,444.22 199.71,444.39 200.05,444.56 200.38,444.72 200.72,444.88 201.05,445.03 201.39,445.19 201.72,445.34 202.06,445.49 202.39,445.64 202.72,445.78 203.06,445.93 203.39,446.07 203.73,446.20 204.06,446.34 204.40,446.48 204.73,446.61 205.07,446.74 205.40,446.87 205.73,446.99 206.07,447.12 206.40,447.24 206.74,447.36 207.07,447.48 207.41,447.59 207.74,447.71 208.08,447.82 208.41,447.93 208.74,448.04 209.08,448.15 209.41,448.25 209.75,448.35 210.08,448.46 210.42,448.55 210.75,448.65 211.09,448.75 211.42,448.84 211.75,448.94 212.09,449.03 212.42,449.12 212.76,449.21 213.09,449.29 213.43,449.38 213.76,449.46 214.10,449.54 214.43,449.63 214.76,449.70 215.10,449.78 215.43,449.86 215.77,449.93 216.10,450.01 216.44,450.08 216.77,450.15 217.11,450.22 217.44,450.29 217.77,450.36 218.11,450.42 218.44,450.49 218.78,450.55 219.11,450.61 219.45,450.67 219.78,450.73 220.12,450.79 220.45,450.85 220.78,450.91 221.12,450.96 221.45,451.02 221.79,451.07 222.12,451.12 222.46,451.17 222.79,451.22 223.13,451.27 223.46,451.32 223.79,451.37 224.13,451.41 224.46,451.46 224.80,451.50 225.13,451.55 225.47,451.59 225.80,451.63 226.14,451.59 226.47,451.55 226.80,451.50 227.14,451.46 227.47,451.41 227.81,451.37 228.14,451.32 228.48,451.27 228.81,451.22 229.15,451.17 229.48,451.12 229.81,451.07 230.15,451.02 230.48,450.96 230.82,450.91 231.15,450.85 231.49,450.79 231.82,450.73 232.16,450.67 232.49,450.61 232.82,450.55 233.16,450.49 233.49,450.42 233.83,450.36 234.16,450.29 234.50,450.22 234.83,450.15 235.17,450.08 235.50,450.01 235.83,449.93 236.17,449.86 236.50,449.78 236.84,449.70 237.17,449.63 237.51,449.54 237.84,449.46 238.18,449.38 238.51,449.29 238.84,449.21 239.18,449.12 239.51,449.03 239.85,448.94 240.18,448.84 240.52,448.75 240.85,448.65 241.19,448.55 241.52,448.46 241.85,448.35 242.19,448.25 242.52,448.15 242.86,448.04 243.19,447.93 243.53,447.82 243.86,447.71 244.20,447.59 244.53,447.48 244.86,447.36 245.20,447.24 245.53,447.12 245.87,446.99 246.20,446.87 246.54,446.74 246.87,446.61 247.21,446.48 247.54,446.34 247.87,446.20 248.21,446.07 248.54,445.93 248.88,445.78 249.21,445.64 249.55,445.49 249.88,445.34 250.22,445.19 250.55,445.03 250.88,444.88 251.22,444.72 251.55,444.56 251.89,444.39 252.22,444.22 252.56,444.06 252.89,443.88 253.23,443.71 253.56,443.53 253.89,443.36 254.23,443.17 254.56,442.99 254.90,442.80 255.23,442.61 255.57,442.42 255.90,442.23 256.24,442.03 256.57,441.83 256.90,441.63 257.24,441.42 257.57,441.21 257.91,441.00 258.24,440.78 258.58,440.57 258.91,440.35 259.25,440.12 259.58,439.90 259.91,439.67 260.25,439.44 260.58,439.20 260.92,438.96 261.25,438.72 261.59,438.48 261.92,438.23 262.26,437.98 262.59,437.73 262.92,437.47 263.26,437.21 263.59,436.95 263.93,436.69 264.26,436.42 264.60,436.14 264.93,435.87 265.27,435.59 265.60,435.31 265.94,435.02 266.27,434.73 266.60,434.44 266.94,434.15 267.27,433.85 267.61,433.55 267.94,433.24 268.28,432.93 268.61,432.62 268.95,432.31 269.28,431.99 269.61,431.67 269.95,431.34 270.28,431.01 270.62,430.68 270.95,430.34 271.29,430.01 271.62,429.66 271.96,429.32 272.29,428.97 272.62,428.61 272.96,428.26 273.29,427.90 273.63,427.53 273.96,427.17 274.30,426.80 274.63,426.42 274.97,426.05 275.30,425.67 275.63,425.28 275.97,424.89 276.30,424.50 276.64,424.11 276.97,423.71 277.31,423.31 277.64,422.90 277.98,422.50 278.31,422.08 278.64,421.67 278.98,421.25 279.31,420.83 279.65,420.40 279.98,419.97 280.32,419.54 280.65,419.11 280.99,418.67 281.32,418.23 281.65,417.78 281.99,417.33 282.32,416.88 282.66,416.42 282.99,415.97 283.33,415.50 283.66,415.04 284.00,414.57 284.33,414.10 284.66,413.63 285.00,413.15 285.33,412.67 285.67,412.18 286.00,411.70" fill="none" stroke="#a2a2a2" stroke-width="1.7"/>
<polyline points="44.13,442.84 45.20,442.23 45.53,442.03 45.87,441.83 46.20,441.63 46.54,441.42 46.87,441.21 47.20,441.00 47.54,440.78 47.87,440.57 48.21,440.35 48.54,440.12 48.88,439.90 49.21,439.67 49.55,439.44 49.88,439.20 50.21,438.96 50.55,438.72 50.88,438.48 51.22,438.23 51.55,437.98 51.89,437.73 52.22,437.47 52.56,437.21 52.89,436.95 53.22,436.69 53.56,436.42 53.89,436.14 54.23,435.87 54.56,435.59 54.90,435.31 55.23,435.02 55.57,434.73 55.90,434.44 56.23,434.15 56.57,433.85 56.90,433.55 57.24,433.24 57.57,432.93 57.91,432.62 58.24,432.31 58.58,431.99 58.91,431.67 59.24,431.34 59.58,431.01 59.91,430.68 60.25,430.34 60.58,430.01 60.92,429.66 61.25,429.32 61.59,428.97 61.92,428.61 62.25,428.26 62.59,427.90 62.92,427.53 63.26,427.17 63.59,426.80 63.93,426.42 64.26,426.05 64.60,425.67 64.93,425.28 65.26,424.89 65.60,424.50 65.93,424.11 66.27,423.71 66.60,423.31 66.94,422.90 67.27,422.50 67.61,422.08 67.94,421.67 68.28,421.25 68.61,420.83 68.94,420.40 69.28,419.97 69.61,419.54 69.95,419.11 70.28,418.67 70.62,418.23 70.95,417.78 71.29,417.33 71.62,416.88 71.95,416.42 72.29,415.97 72.62,415.50 72.96,415.04 73.29,414.57 73.63,414.10 73.96,413.63 74.30,413.15 74.63,412.67 74.96,412.18 75.30,411.70 75.63,411.21 75.97,410.72 76.30,410.22 76.64,409.72 76.97,409.22 77.31,408.72 77.64,408.21 77.97,407.70 78.31,407.19 78.64,406.67 78.98,406.15 79.31,405.63 79.65,405.11 79.98,404.58 80.32,404.05 80.65,403.52 80.98,402.99 81.32,402.46 81.65,401.92 81.99,401.38 82.32,400.83 82.66,400.29 82.99,399.74 83.33,399.19 83.66,398.64 83.99,398.09 84.33,397.54 84.66,396.98 85.00,396.42 85.33,395.86 85.67,395.30 86.00,394.73 86.34,394.17 86.67,393.60 87.00,393.03 87.34,392.46 87.67,391.89 88.01,391.32 88.34,390.74 88.68,390.17 89.01,389.59 89.35,389.02 89.68,388.44 90.01,387.86 90.35,387.28 90.68,386.70 91.02,386.11 91.35,385.53 91.69,384.95 92.02,384.37 92.36,383.78 92.69,383.20 93.02,382.61 93.36,382.03 93.69,381.44 94.03,380.86 94.36,380.27 94.70,379.69 95.03,379.10 95.37,378.52 95.70,377.94 96.03,377.35 96.37,376.77 96.70,376.19 97.04,375.60 97.37,375.02 97.71,374.44 98.04,373.86 98.38,373.28 98.71,372.70 99.04,372.13 99.38,371.55 99.71,370.98 100.05,370.41 100.38,369.83 100.72,369.26 101.05,368.70 101.39,368.13 101.72,367.56 102.05,367.00 102.39,366.44 102.72,365.88 103.06,365.32 103.39,364.77 103.73,364.22 104.06,363.67 104.40,363.12 104.73,362.58 105.06,362.03 105.40,361.50 105.73,360.96 106.07,360.42 106.40,359.89 106.74,359.37 107.07,358.84 107.41,358.32 107.74,357.80 108.07,357.29 108.41,356.78 108.74,356.27 109.08,355.77 109.41,355.27 109.75,354.77 110.08,354.28 110.42,353.79 110.75,353.31 111.08,352.83 111.42,352.35 111.75,351.88 112.09,351.42 112.42,350.95 112.76,350.50 113.09,350.04 113.43,349.60 113.76,349.15 114.09,348.71 114.43,348.28 114.76,347.85 115.10,347.43 115.43,347.01 115.77,346.60 116.10,346.19 116.44,345.79 116.77,345.40 117.10,345.00 117.44,344.62 117.77,344.24 118.11,343.87 118.44,343.50 118.78,343.14 119.11,342.78 119.45,342.43 119.78,342.09 120.11,341.75 120.45,341.42 120.78,341.10 121.12,340.78 121.45,340.47 121.79,340.16 122.12,339.86 122.46,339.57 122.79,339.29 123.12,339.01 123.46,338.74 123.79,338.47 124.13,338.21 124.46,337.96 124.80,337.72 125.13,337.48 125.47,337.25 125.80,337.03 126.13,336.81 126.47,336.60 126.80,336.40 127.14,336.21 127.47,336.02 127.81,335.84 128.14,335.67 128.48,335.50 128.81,335.35 129.14,335.20 129.48,335.05 129.81,334.92 130.15,334.79 130.48,334.67 130.82,334.56 131.15,334.46 131.49,334.36 131.82,334.27 132.16,334.19 132.49,334.11 132.82,334.05 133.16,333.99 133.49,333.94 133.83,333.90 134.16,333.86 134.50,333.83 134.83,333.82 135.17,333.80 135.50,333.80 135.83,333.80 136.17,333.82 136.50,333.83 136.84,333.86 137.17,333.90 137.51,333.94 137.84,333.99 138.18,334.05 138.51,334.11 138.84,334.19 139.18,334.27 139.51,334.36 139.85,334.46 140.18,334.56 140.52,334.67 140.85,334.79 141.19,334.92 141.52,335.05 141.85,335.20 142.19,335.35 142.52,335.50 142.86,335.67 143.19,335.84 143.53,336.02 143.86,336.21 144.20,336.40 144.53,336.60 144.86,336.81 145.20,337.03 145.53,337.25 145.87,337.48 146.20,337.72 146.54,337.96 146.87,338.21 147.21,338.47 147.54,338.74 147.87,339.01 148.21,339.29 148.54,339.57 148.88,339.86 149.21,340.16 149.55,340.47 149.88,340.78 150.22,341.10 150.55,341.42 150.88,341.75 151.22,342.09 151.55,342.43 151.89,342.78 152.22,343.14 152.56,343.50 152.89,343.87 153.23,344.24 153.56,344.62 153.89,345.00 154.23,345.40 154.56,345.79 154.90,346.19 155.23,346.60 155.57,347.01 155.90,347.43 156.24,347.85 156.57,348.28 156.90,348.71 157.24,349.15 157.57,349.60 157.91,350.04 158.24,350.50 158.58,350.95 158.91,351.42 159.25,351.88 159.58,352.35 159.91,352.83 160.25,353.31 160.58,353.79 160.92,354.28 161.25,354.77 161.59,355.27 161.92,355.77 162.26,356.27 162.59,356.78 162.92,357.29 163.26,357.80 163.59,358.32 163.93,358.84 164.26,359.37 164.60,359.89 164.93,360.42 165.27,360.96 165.60,361.50 165.93,362.03 166.27,362.58 166.60,363.12 166.94,363.67 167.27,364.22 167.61,364.77 167.94,365.32 168.28,365.88 168.61,366.44 168.94,367.00 169.28,367.56 169.61,368.13 169.95,368.70 170.28,369.26 170.62,369.83 170.95,370.41 171.29,370.98 171.62,371.55 171.95,372.13 172.29,372.70 172.62,373.28 172.96,373.86 173.29,374.44 173.63,375.02 173.96,375.60 174.30,376.19 174.63,376.77 174.96,377.35 175.30,377.94 175.63,378.52 175.97,379.10 176.30,379.69 176.64,380.27 176.97,380.86 177.31,381.44 177.64,382.03 177.97,382.61 178.31,383.20 178.64,383.78 178.98,384.37 179.31,384.95 179.65,385.53 179.98,386.11 180.32,386.70 180.65,387.28 180.98,387.86 181.32,388.44 181.65,389.02 181.99,389.59 182.32,390.17 182.66,390.74 182.99,391.32 183.33,391.89 183.66,392.46 183.99,393.03 184.33,393.60 184.66,394.17 185.00,394.73 185.33,395.30 185.67,395.86 186.00,396.42 186.34,396.98 186.67,397.54 187.00,398.09 187.34,398.64 187.67,399.19 188.01,399.74 188.34,400.29 188.68,400.83 189.01,401.38 189.35,401.92 189.68,402.46 190.01,402.99 190.35,403.52 190.68,404.05 191.02,404.58 191.35,405.11 191.69,405.63 192.02,406.15 192.36,406.67 192.69,407.19 193.02,407.70 193.36,408.21 193.69,408.72 194.03,409.22 194.36,409.72 194.70,410.22 195.03,410.72 195.37,411.21 195.70,411.70 196.03,412.18 196.37,412.67 196.70,413.15 197.04,413.63 197.37,414.10 197.71,414.57 198.04,415.04 198.38,415.50 198.71,415.97 199.04,416.42 199.38,416.88 199.71,417.33 200.05,417.78 200.38,418.23 200.72,418.67 201.05,419.11 201.39,419.54 201.72,419.97 202.06,420.40 202.39,420.83 202.72,421.25 203.06,421.67 203.39,422.08 203.73,422.50 204.06,422.90 204.40,423.31 204.73,423.71 205.07,424.11 205.40,424.50 205.73,424.89 206.07,425.28 206.40,425.67 206.74,426.05 207.07,426.42 207.41,426.80 207.74,427.17 208.08,427.53 208.41,427.90 208.74,428.26 209.08,428.61 209.41,428.97 209.75,429.32 210.08,429.66 210.42,430.01 210.75,430.34 211.09,430.68 211.42,431.01 211.75,431.34 212.09,431.67 212.42,431.99 212.76,432.31 213.09,432.62 213.43,432.93 213.76,433.24 214.10,433.55 214.43,433.85 214.76,434.15 215.10,434.44 215.43,434.73 215.77,435.02 216.10,435.31 216.44,435.59 216.77,435.87 217.11,436.14 217.44,436.42 217.77,436.69 218.11,436.95 218.44,437.21 218.78,437.47 219.11,437.73 219.45,437.98 219.78,438.23 220.12,438.48 220.45,438.72 220.78,438.96 221.12,439.20 221.45,439.44 221.79,439.67 222.12,439.90 222.46,440.12 222.79,440.35 223.13,440.57 223.46,440.78 223.79,441.00 224.13,441.21 224.46,441.42 224.80,441.63 225.13,441.83 225.47,442.03 225.80,442.23 226.14,442.42 226.47,442.61 226.80,442.80 227.14,442.99 227.47,443.17 227.81,443.36 228.14,443.53 228.48,443.71 228.81,443.88 229.15,444.06 229.48,444.22 229.81,444.39 230.15,444.56 230.48,444.72 230.82,444.88 231.15,445.03 231.49,445.19 231.82,445.34 232.16,445.49 232.49,445.64 232.82,445.78 233.16,445.93 233.49,446.07 233.83,446.20 234.16,446.34 234.50,446.48 234.83,446.61 235.17,446.74 235.50,446.87 235.83,446.99 236.17,447.12 236.50,447.24 236.84,447.36 237.17,447.48 237.51,447.59 237.84,447.71 238.18,447.82 238.51,447.93 238.84,448.04 239.18,448.15 239.51,448.25 239.85,448.35 240.18,448.46 240.52,448.55 240.85,448.65 241.19,448.75 241.52,448.84 241.85,448.94 242.19,449.03 242.52,449.12 242.86,449.21 243.19,449.29 243.53,449.38 243.86,449.46 244.20,449.54 244.53,449.63 244.86,449.70 245.20,449.78 245.53,449.86 245.87,449.93 246.20,450.01 246.54,450.08 246.87,450.15 247.21,450.22 247.54,450.29 247.87,450.36 248.21,450.42 248.54,450.49 248.88,450.55 249.21,450.61 249.55,450.67 249.88,450.73 250.22,450.79 250.55,450.85 250.88,450.91 251.22,450.96 251.55,451.02 251.89,451.07 252.22,451.12 252.56,451.17 252.89,451.22 253.23,451.27 253.56,451.32 253.89,451.37 254.23,451.41 254.56,451.46 254.90,451.50 255.23,451.55 255.57,451.59 255.90,451.63 256.24,451.59 256.57,451.55 256.90,451.50 257.24,451.46 257.57,451.41 257.91,451.37 258.24,451.32 258.58,451.27 258.91,451.22 259.25,451.17 259.58,451.12 259.91,451.07 260.25,451.02 260.58,450.96 260.92,450.91 261.25,450.85 261.59,450.79 261.92,450.73 262.26,450.67 262.59,450.61 262.92,450.55 263.26,450.49 263.59,450.42 263.93,450.36 264.26,450.29 264.60,450.22 264.93,450.15 265.27,450.08 265.60,450.01 265.94,449.93 266.27,449.86 266.60,449.78 266.94,449.70 267.27,449.63 267.61,449.54 267.94,449.46 268.28,449.38 268.61,449.29 268.95,449.21 269.28,449.12 269.61,449.03 269.95,448.94 270.28,448.84 270.62,448.75 270.95,448.65 271.29,448.55 271.62,448.46 271.96,448.35 272.29,448.25 272.62,448.15 272.96,448.04 273.29,447.93 273.63,447.82 273.96,447.71 274.30,447.59 274.63,447.48 274.97,447.36 275.30,447.24 275.63,447.12 275.97,446.99 276.30,446.87 276.64,446.74 276.97,446.61 277.31,446.48 277.64,446.34 277.98,446.20 278.31,446.07 278.64,445.93 278.98,445.78 279.31,445.64 279.65,445.49 279.98,445.34 280.32,445.19 280.65,445.03 280.99,444.88 281.32,444.72 281.65,444.56 281.99,444.39 282.32,444.22 282.66,444.06 282.99,443.88 283.33,443.71 283.66,443.53 284.00,443.36 284.33,443.17 284.66,442.99 285.00,442.80 285.33,442.61 285.67,442.42 286.00,442.23" fill="none" stroke="#a2a2a2" stroke-width="1.7"/>
<polyline points="44.13,451.50 45.20,451.63 45.53,451.59 45.87,451.55 46.20,451.50 46.54,451.46 46.87,451.41 47.20,451.37 47.54,451.32 47.87,451.27 48.21,451.22 48.54,451.17 48.88,451.12 49.21,451.07 49.55,451.02 49.88,450.96 50.21,450.91 50.55,450.85 50.88,450.79 51.22,450.73 51.55,450.67 51.89,450.61 52.22,450.55 52.56,450.49 52.89,450.42 53.22,450.36 53.56,450.29 53.89,450.22 54.23,450.15 54.56,450.08 54.90,450.01 55.23,449.93 55.57,449.86 55.90,449.78 56.23,449.70 56.57,449.63 56.90,449.54 57.24,449.46 57.57,449.38 57.91,449.29 58.24,449.21 58.58,449.12 58.91,449.03 59.24,448.94 59.58,448.84 59.91,448.75 60.25,448.65 60.58,448.55 60.92,448.46 61.25,448.35 61.59,448.25 61.92,448.15 62.25,448.04 62.59,447.93 62.92,447.82 63.26,447.71 63.59,447.59 63.93,447.48 64.26,447.36 64.60,447.24 64.93,447.12 65.26,446.99 65.60,446.87 65.93,446.74 66.27,446.61 66.60,446.48 66.94,446.34 67.27,446.20 67.61,446.07 67.94,445.93 68.28,445.78 68.61,445.64 68.94,445.49 69.28,445.34 69.61,445.19 69.95,445.03 70.28,444.88 70.62,444.72 70.95,444.56 71.29,444.39 71.62,444.22 71.95,444.06 72.29,443.88 72.62,443.71 72.96,443.53 73.29,443.36 73.63,443.17 73.96,442.99 74.30,442.80 74.63,442.61 74.96,442.42 75.30,442.23 75.63,442.03 75.97,441.83 76.30,441.63 76.64,441.42 76.97,441.21 77.31,441.00 77.64,440.78 77.97,440.57 78.31,440.35 78.64,440.12 78.98,439.90 79.31,439.67 79.65,439.44 79.98,439.20 80.32,438.96 80.65,438.72 80.98,438.48 81.32,438.23 81.65,437.98 81.99,437.73 82.32,437.47 82.66,437.21 82.99,436.95 83.33,436.69 83.66,436.42 83.99,436.14 84.33,435.87 84.66,435.59 85.00,435.31 85.33,435.02 85.67,434.73 86.00,434.44 86.34,434.15 86.67,433.85 87.00,433.55 87.34,433.24 87.67,432.93 88.01,432.62 88.34,432.31 88.68,431.99 89.01,431.67 89.35,431.34 89.68,431.01 90.01,430.68 90.35,430.34 90.68,430.01 91.02,429.66 91.35,429.32 91.69,428.97 92.02,428.61 92.36,428.26 92.69,427.90 93.02,427.53 93.36,427.17 93.69,426.80 94.03,426.42 94.36,426.05 94.70,425.67 95.03,425.28 95.37,424.89 95.70,424.50 96.03,424.11 96.37,423.71 96.70,423.31 97.04,422.90 97.37,422.50 97.71,422.08 98.04,421.67 98.38,421.25 98.71,420.83 99.04,420.40 99.38,419.97 99.71,419.54 100.05,419.11 100.38,418.67 100.72,418.23 101.05,417.78 101.39,417.33 101.72,416.88 102.05,416.42 102.39,415.97 102.72,415.50 103.06,415.04 103.39,414.57 103.73,414.10 104.06,413.63 104.40,413.15 104.73,412.67 105.06,412.18 105.40,411.70 105.73,411.21 106.07,410.72 106.40,410.22 106.74,409.72 107.07,409.22 107.41,408.72 107.74,408.21 108.07,407.70 108.41,407.19 108.74,406.67 109.08,406.15 109.41,405.63 109.75,405.11 110.08,404.58 110.42,404.05 110.75,403.52 111.08,402.99 111.42,402.46 111.75,401.92 112.09,401.38 112.42,400.83 112.76,400.29 113.09,399.74 113.43,399.19 113.76,398.64 114.09,398.09 114.43,397.54 114.76,396.98 115.10,396.42 115.43,395.86 115.77,395.30 116.10,394.73 116.44,394.17 116.77,393.60 117.10,393.03 117.44,392.46 117.77,391.89 118.11,391.32 118.44,390.74 118.78,390.17 119.11,389.59 119.45,389.02 119.78,388.44 120.11,387.86 120.45,387.28 120.78,386.70 121.12,386.11 121.45,385.53 121.79,384.95 122.12,384.37 122.46,383.78 122.79,383.20 123.12,382.61 123.46,382.03 123.79,381.44 124.13,380.86 124.46,380.27 124.80,379.69 125.13,379.10 125.47,378.52 125.80,377.94 126.13,377.35 126.47,376.77 126.80,376.19 127.14,375.60 127.47,375.02 127.81,374.44 128.14,373.86 128.48,373.28 128.81,372.70 129.14,372.13 129.48,371.55 129.81,370.98 130.15,370.41 130.48,369.83 130.82,369.26 131.15,368.70 131.49,368.13 131.82,367.56 132.16,367.00 132.49,366.44 132.82,365.88 133.16,365.32 133.49,364.77 133.83,364.22 134.16,363.67 134.50,363.12 134.83,362.58 135.17,362.03 135.50,361.50 135.83,360.96 136.17,360.42 136.50,359.89 136.84,359.37 137.17,358.84 137.51,358.32 137.84,357.80 138.18,357.29 138.51,356.78 138.84,356.27 139.18,355.77 139.51,355.27 139.85,354.77 140.18,354.28 140.52,353.79 140.85,353.31 141.19,352.83 141.52,352.35 141.85,351.88 142.19,351.42 142.52,350.95 142.86,350.50 143.19,350.04 143.53,349.60 143.86,349.15 144.20,348.71 144.53,348.28 144.86,347.85 145.20,347.43 145.53,347.01 145.87,346.60 146.20,346.19 146.54,345.79 146.87,345.40 147.21,345.00 147.54,344.62 147.87,344.24 148.21,343.87 148.54,343.50 148.88,343.14 149.21,342.78 149.55,342.43 149.88,342.09 150.22,341.75 150.55,341.42 150.88,341.10 151.22,340.78 151.55,340.47 151.89,340.16 152.22,339.86 152.56,339.57 152.89,339.29 153.23,339.01 153.56,338.74 153.89,338.47 154.23,338.21 154.56,337.96 154.90,337.72 155.23,337.48 155.57,337.25 155.90,337.03 156.24,336.81 156.57,336.60 156.90,336.40 157.24,336.21 157.57,336.02 157.91,335.84 158.24,335.67 158.58,335.50 158.91,335.35 159.25,335.20 159.58,335.05 159.91,334.92 160.25,334.79 160.58,334.67 160.92,334.56 161.25,334.46 161.59,334.36 161.92,334.27 162.26,334.19 162.59,334.11 162.92,334.05 163.26,333.99 163.59,333.94 163.93,333.90 164.26,333.86 164.60,333.83 164.93,333.82 165.27,333.80 165.60,333.80 165.93,333.80 166.27,333.82 166.60,333.83 166.94,333.86 167.27,333.90 167.61,333.94 167.94,333.99 168.28,334.05 168.61,334.11 168.94,334.19 169.28,334.27 169.61,334.36 169.95,334.46 170.28,334.56 170.62,334.67 170.95,334.79 171.29,334.92 171.62,335.05 171.95,335.20 172.29,335.35 172.62,335.50 172.96,335.67 173.29,335.84 173.63,336.02 173.96,336.21 174.30,336.40 174.63,336.60 174.96,336.81 175.30,337.03 175.63,337.25 175.97,337.48 176.30,337.72 176.64,337.96 176.97,338.21 177.31,338.47 177.64,338.74 177.97,339.01 178.31,339.29 178.64,339.57 178.98,339.86 179.31,340.16 179.65,340.47 179.98,340.78 180.32,341.10 180.65,341.42 180.98,341.75 181.32,342.09 181.65,342.43 181.99,342.78 182.32,343.14 182.66,343.50 182.99,343.87 183.33,344.24 183.66,344.62 183.99,345.00 184.33,345.40 184.66,345.79 185.00,346.19 185.33,346.60 185.67,347.01 186.00,347.43 186.34,347.85 186.67,348.28 187.00,348.71 187.34,349.15 187.67,349.60 188.01,350.04 188.34,350.50 188.68,350.95 189.01,351.42 189.35,351.88 189.68,352.35 190.01,352.83 190.35,353.31 190.68,353.79 191.02,354.28 191.35,354.77 191.69,355.27 192.02,355.77 192.36,356.27 192.69,356.78 193.02,357.29 193.36,357.80 193.69,358.32 194.03,358.84 194.36,359.37 194.70,359.89 195.03,360.42 195.37,360.96 195.70,361.50 196.03,362.03 196.37,362.58 196.70,363.12 197.04,363.67 197.37,364.22 197.71,364.77 198.04,365.32 198.38,365.88 198.71,366.44 199.04,367.00 199.38,367.56 199.71,368.13 200.05,368.70 200.38,369.26 200.72,369.83 201.05,370.41 201.39,370.98 201.72,371.55 202.06,372.13 202.39,372.70 202.72,373.28 203.06,373.86 203.39,374.44 203.73,375.02 204.06,375.60 204.40,376.19 204.73,376.77 205.07,377.35 205.40,377.94 205.73,378.52 206.07,379.10 206.40,379.69 206.74,380.27 207.07,380.86 207.41,381.44 207.74,382.03 208.08,382.61 208.41,383.20 208.74,383.78 209.08,384.37 209.41,384.95 209.75,385.53 210.08,386.11 210.42,386.70 210.75,387.28 211.09,387.86 211.42,388.44 211.75,389.02 212.09,389.59 212.42,390.17 212.76,390.74 213.09,391.32 213.43,391.89 213.76,392.46 214.10,393.03 214.43,393.60 214.76,394.17 215.10,394.73 215.43,395.30 215.77,395.86 216.10,396.42 216.44,396.98 216.77,397.54 217.11,398.09 217.44,398.64 217.77,399.19 218.11,399.74 218.44,400.29 218.78,400.83 219.11,401.38 219.45,401.92 219.78,402.46 220.12,402.99 220.45,403.52 220.78,404.05 221.12,404.58 221.45,405.11 221.79,405.63 222.12,406.15 222.46,406.67 222.79,407.19 223.13,407.70 223.46,408.21 223.79,408.72 224.13,409.22 224.46,409.72 224.80,410.22 225.13,410.72 225.47,411.21 225.80,411.70 226.14,412.18 226.47,412.67 226.80,413.15 227.14,413.63 227.47,414.10 227.81,414.57 228.14,415.04 228.48,415.50 228.81,415.97 229.15,416.42 229.48,416.88 229.81,417.33 230.15,417.78 230.48,418.23 230.82,418.67 231.15,419.11 231.49,419.54 231.82,419.97 232.16,420.40 232.49,420.83 232.82,421.25 233.16,421.67 233.49,422.08 233.83,422.50 234.16,422.90 234.50,423.31 234.83,423.71 235.17,424.11 235.50,424.50 235.83,424.89 236.17,425.28 236.50,425.67 236.84,426.05 237.17,426.42 237.51,426.80 237.84,427.17 238.18,427.53 238.51,427.90 238.84,428.26 239.18,428.61 239.51,428.97 239.85,429.32 240.18,429.66 240.52,430.01 240.85,430.34 241.19,430.68 241.52,431.01 241.85,431.34 242.19,431.67 242.52,431.99 242.86,432.31 243.19,432.62 243.53,432.93 243.86,433.24 244.20,433.55 244.53,433.85 244.86,434.15 245.20,434.44 245.53,434.73 245.87,435.02 246.20,435.31 246.54,435.59 246.87,435.87 247.21,436.14 247.54,436.42 247.87,436.69 248.21,436.95 248.54,437.21 248.88,437.47 249.21,437.73 249.55,437.98 249.88,438.23 250.22,438.48 250.55,438.72 250.88,438.96 251.22,439.20 251.55,439.44 251.89,439.67 252.22,439.90 252.56,440.12 252.89,440.35 253.23,440.57 253.56,440.78 253.89,441.00 254.23,441.21 254.56,441.42 254.90,441.63 255.23,441.83 255.57,442.03 255.90,442.23 256.24,442.42 256.57,442.61 256.90,442.80 257.24,442.99 257.57,443.17 257.91,443.36 258.24,443.53 258.58,443.71 258.91,443.88 259.25,444.06 259.58,444.22 259.91,444.39 260.25,444.56 260.58,444.72 260.92,444.88 261.25,445.03 261.59,445.19 261.92,445.34 262.26,445.49 262.59,445.64 262.92,445.78 263.26,445.93 263.59,446.07 263.93,446.20 264.26,446.34 264.60,446.48 264.93,446.61 265.27,446.74 265.60,446.87 265.94,446.99 266.27,447.12 266.60,447.24 266.94,447.36 267.27,447.48 267.61,447.59 267.94,447.71 268.28,447.82 268.61,447.93 268.95,448.04 269.28,448.15 269.61,448.25 269.95,448.35 270.28,448.46 270.62,448.55 270.95,448.65 271.29,448.75 271.62,448.84 271.96,448.94 272.29,449.03 272.62,449.12 272.96,449.21 273.29,449.29 273.63,449.38 273.96,449.46 274.30,449.54 274.63,449.63 274.97,449.70 275.30,449.78 275.63,449.86 275.97,449.93 276.30,450.01 276.64,450.08 276.97,450.15 277.31,450.22 277.64,450.29 277.98,450.36 278.31,450.42 278.64,450.49 278.98,450.55 279.31,450.61 279.65,450.67 279.98,450.73 280.32,450.79 280.65,450.85 280.99,450.91 281.32,450.96 281.65,451.02 281.99,451.07 282.32,451.12 282.66,451.17 282.99,451.22 283.33,451.27 283.66,451.32 284.00,451.37 284.33,451.41 284.66,451.46 285.00,451.50 285.33,451.55 285.67,451.59 286.00,451.63" fill="none" stroke="#a2a2a2" stroke-width="1.7"/>
<polyline points="44.13,441.58 45.20,442.23 45.53,442.42 45.87,442.61 46.20,442.80 46.54,442.99 46.87,443.17 47.20,443.36 47.54,443.53 47.87,443.71 48.21,443.88 48.54,444.06 48.88,444.22 49.21,444.39 49.55,444.56 49.88,444.72 50.21,444.88 50.55,445.03 50.88,445.19 51.22,445.34 51.55,445.49 51.89,445.64 52.22,445.78 52.56,445.93 52.89,446.07 53.22,446.20 53.56,446.34 53.89,446.48 54.23,446.61 54.56,446.74 54.90,446.87 55.23,446.99 55.57,447.12 55.90,447.24 56.23,447.36 56.57,447.48 56.90,447.59 57.24,447.71 57.57,447.82 57.91,447.93 58.24,448.04 58.58,448.15 58.91,448.25 59.24,448.35 59.58,448.46 59.91,448.55 60.25,448.65 60.58,448.75 60.92,448.84 61.25,448.94 61.59,449.03 61.92,449.12 62.25,449.21 62.59,449.29 62.92,449.38 63.26,449.46 63.59,449.54 63.93,449.63 64.26,449.70 64.60,449.78 64.93,449.86 65.26,449.93 65.60,450.01 65.93,450.08 66.27,450.15 66.60,450.22 66.94,450.29 67.27,450.36 67.61,450.42 67.94,450.49 68.28,450.55 68.61,450.61 68.94,450.67 69.28,450.73 69.61,450.79 69.95,450.85 70.28,450.91 70.62,450.96 70.95,451.02 71.29,451.07 71.62,451.12 71.95,451.17 72.29,451.22 72.62,451.27 72.96,451.32 73.29,451.37 73.63,451.41 73.96,451.46 74.30,451.50 74.63,451.55 74.96,451.59 75.30,451.63 75.63,451.59 75.97,451.55 76.30,451.50 76.64,451.46 76.97,451.41 77.31,451.37 77.64,451.32 77.97,451.27 78.31,451.22 78.64,451.17 78.98,451.12 79.31,451.07 79.65,451.02 79.98,450.96 80.32,450.91 80.65,450.85 80.98,450.79 81.32,450.73 81.65,450.67 81.99,450.61 82.32,450.55 82.66,450.49 82.99,450.42 83.33,450.36 83.66,450.29 83.99,450.22 84.33,450.15 84.66,450.08 85.00,450.01 85.33,449.93 85.67,449.86 86.00,449.78 86.34,449.70 86.67,449.63 87.00,449.54 87.34,449.46 87.67,449.38 88.01,449.29 88.34,449.21 88.68,449.12 89.01,449.03 89.35,448.94 89.68,448.84 90.01,448.75 90.35,448.65 90.68,448.55 91.02,448.46 91.35,448.35 91.69,448.25 92.02,448.15 92.36,448.04 92.69,447.93 93.02,447.82 93.36,447.71 93.69,447.59 94.03,447.48 94.36,447.36 94.70,447.24 95.03,447.12 95.37,446.99 95.70,446.87 96.03,446.74 96.37,446.61 96.70,446.48 97.04,446.34 97.37,446.20 97.71,446.07 98.04,445.93 98.38,445.78 98.71,445.64 99.04,445.49 99.38,445.34 99.71,445.19 100.05,445.03 100.38,444.88 100.72,444.72 101.05,444.56 101.39,444.39 101.72,444.22 102.05,444.06 102.39,443.88 102.72,443.71 103.06,443.53 103.39,443.36 103.73,443.17 104.06,442.99 104.40,442.80 104.73,442.61 105.06,442.42 105.40,442.23 105.73,442.03 106.07,441.83 106.40,441.63 106.74,441.42 107.07,441.21 107.41,441.00 107.74,440.78 108.07,440.57 108.41,440.35 108.74,440.12 109.08,439.90 109.41,439.67 109.75,439.44 110.08,439.20 110.42,438.96 110.75,438.72 111.08,438.48 111.42,438.23 111.75,437.98 112.09,437.73 112.42,437.47 112.76,437.21 113.09,436.95 113.43,436.69 113.76,436.42 114.09,436.14 114.43,435.87 114.76,435.59 115.10,435.31 115.43,435.02 115.77,434.73 116.10,434.44 116.44,434.15 116.77,433.85 117.10,433.55 117.44,433.24 117.77,432.93 118.11,432.62 118.44,432.31 118.78,431.99 119.11,431.67 119.45,431.34 119.78,431.01 120.11,430.68 120.45,430.34 120.78,430.01 121.12,429.66 121.45,429.32 121.79,428.97 122.12,428.61 122.46,428.26 122.79,427.90 123.12,427.53 123.46,427.17 123.79,426.80 124.13,426.42 124.46,426.05 124.80,425.67 125.13,425.28 125.47,424.89 125.80,424.50 126.13,424.11 126.47,423.71 126.80,423.31 127.14,422.90 127.47,422.50 127.81,422.08 128.14,421.67 128.48,421.25 128.81,420.83 129.14,420.40 129.48,419.97 129.81,419.54 130.15,419.11 130.48,418.67 130.82,418.23 131.15,417.78 131.49,417.33 131.82,416.88 132.16,416.42 132.49,415.97 132.82,415.50 133.16,415.04 133.49,414.57 133.83,414.10 134.16,413.63 134.50,413.15 134.83,412.67 135.17,412.18 135.50,411.70 135.83,411.21 136.17,410.72 136.50,410.22 136.84,409.72 137.17,409.22 137.51,408.72 137.84,408.21 138.18,407.70 138.51,407.19 138.84,406.67 139.18,406.15 139.51,405.63 139.85,405.11 140.18,404.58 140.52,404.05 140.85,403.52 141.19,402.99 141.52,402.46 141.85,401.92 142.19,401.38 142.52,400.83 142.86,400.29 143.19,399.74 143.53,399.19 143.86,398.64 144.20,398.09 144.53,397.54 144.86,396.98 145.20,396.42 145.53,395.86 145.87,395.30 146.20,394.73 146.54,394.17 146.87,393.60 147.21,393.03 147.54,392.46 147.87,391.89 148.21,391.32 148.54,390.74 148.88,390.17 149.21,389.59 149.55,389.02 149.88,388.44 150.22,387.86 150.55,387.28 150.88,386.70 151.22,386.11 151.55,385.53 151.89,384.95 152.22,384.37 152.56,383.78 152.89,383.20 153.23,382.61 153.56,382.03 153.89,381.44 154.23,380.86 154.56,380.27 154.90,379.69 155.23,379.10 155.57,378.52 155.90,377.94 156.24,377.35 156.57,376.77 156.90,376.19 157.24,375.60 157.57,375.02 157.91,374.44 158.24,373.86 158.58,373.28 158.91,372.70 159.25,372.13 159.58,371.55 159.91,370.98 160.25,370.41 160.58,369.83 160.92,369.26 161.25,368.70 161.59,368.13 161.92,367.56 162.26,367.00 162.59,366.44 162.92,365.88 163.26,365.32 163.59,364.77 163.93,364.22 164.26,363.67 164.60,363.12 164.93,362.58 165.27,362.03 165.60,361.50 165.93,360.96 166.27,360.42 166.60,359.89 166.94,359.37 167.27,358.84 167.61,358.32 167.94,357.80 168.28,357.29 168.61,356.78 168.94,356.27 169.28,355.77 169.61,355.27 169.95,354.77 170.28,354.28 170.62,353.79 170.95,353.31 171.29,352.83 171.62,352.35 171.95,351.88 172.29,351.42 172.62,350.95 172.96,350.50 173.29,350.04 173.63,349.60 173.96,349.15 174.30,348.71 174.63,348.28 174.96,347.85 175.30,347.43 175.63,347.01 175.97,346.60 176.30,346.19 176.64,345.79 176.97,345.40 177.31,345.00 177.64,344.62 177.97,344.24 178.31,343.87 178.64,343.50 178.98,343.14 179.31,342.78 179.65,342.43 179.98,342.09 180.32,341.75 180.65,341.42 180.98,341.10 181.32,340.78 181.65,340.47 181.99,340.16 182.32,339.86 182.66,339.57 182.99,339.29 183.33,339.01 183.66,338.74 183.99,338.47 184.33,338.21 184.66,337.96 185.00,337.72 185.33,337.48 185.67,337.25 186.00,337.03 186.34,336.81 186.67,336.60 187.00,336.40 187.34,336.21 187.67,336.02 188.01,335.84 188.34,335.67 188.68,335.50 189.01,335.35 189.35,335.20 189.68,335.05 190.01,334.92 190.35,334.79 190.68,334.67 191.02,334.56 191.35,334.46 191.69,334.36 192.02,334.27 192.36,334.19 192.69,334.11 193.02,334.05 193.36,333.99 193.69,333.94 194.03,333.90 194.36,333.86 194.70,333.83 195.03,333.82 195.37,333.80 195.70,333.80 196.03,333.80 196.37,333.82 196.70,333.83 197.04,333.86 197.37,333.90 197.71,333.94 198.04,333.99 198.38,334.05 198.71,334.11 199.04,334.19 199.38,334.27 199.71,334.36 200.05,334.46 200.38,334.56 200.72,334.67 201.05,334.79 201.39,334.92 201.72,335.05 202.06,335.20 202.39,335.35 202.72,335.50 203.06,335.67 203.39,335.84 203.73,336.02 204.06,336.21 204.40,336.40 204.73,336.60 205.07,336.81 205.40,337.03 205.73,337.25 206.07,337.48 206.40,337.72 206.74,337.96 207.07,338.21 207.41,338.47 207.74,338.74 208.08,339.01 208.41,339.29 208.74,339.57 209.08,339.86 209.41,340.16 209.75,340.47 210.08,340.78 210.42,341.10 210.75,341.42 211.09,341.75 211.42,342.09 211.75,342.43 212.09,342.78 212.42,343.14 212.76,343.50 213.09,343.87 213.43,344.24 213.76,344.62 214.10,345.00 214.43,345.40 214.76,345.79 215.10,346.19 215.43,346.60 215.77,347.01 216.10,347.43 216.44,347.85 216.77,348.28 217.11,348.71 217.44,349.15 217.77,349.60 218.11,350.04 218.44,350.50 218.78,350.95 219.11,351.42 219.45,351.88 219.78,352.35 220.12,352.83 220.45,353.31 220.78,353.79 221.12,354.28 221.45,354.77 221.79,355.27 222.12,355.77 222.46,356.27 222.79,356.78 223.13,357.29 223.46,357.80 223.79,358.32 224.13,358.84 224.46,359.37 224.80,359.89 225.13,360.42 225.47,360.96 225.80,361.50 226.14,362.03 226.47,362.58 226.80,363.12 227.14,363.67 227.47,364.22 227.81,364.77 228.14,365.32 228.48,365.88 228.81,366.44 229.15,367.00 229.48,367.56 229.81,368.13 230.15,368.70 230.48,369.26 230.82,369.83 231.15,370.41 231.49,370.98 231.82,371.55 232.16,372.13 232.49,372.70 232.82,373.28 233.16,373.86 233.49,374.44 233.83,375.02 234.16,375.60 234.50,376.19 234.83,376.77 235.17,377.35 235.50,377.94 235.83,378.52 236.17,379.10 236.50,379.69 236.84,380.27 237.17,380.86 237.51,381.44 237.84,382.03 238.18,382.61 238.51,383.20 238.84,383.78 239.18,384.37 239.51,384.95 239.85,385.53 240.18,386.11 240.52,386.70 240.85,387.28 241.19,387.86 241.52,388.44 241.85,389.02 242.19,389.59 242.52,390.17 242.86,390.74 243.19,391.32 243.53,391.89 243.86,392.46 244.20,393.03 244.53,393.60 244.86,394.17 245.20,394.73 245.53,395.30 245.87,395.86 246.20,396.42 246.54,396.98 246.87,397.54 247.21,398.09 247.54,398.64 247.87,399.19 248.21,399.74 248.54,400.29 248.88,400.83 249.21,401.38 249.55,401.92 249.88,402.46 250.22,402.99 250.55,403.52 250.88,404.05 251.22,404.58 251.55,405.11 251.89,405.63 252.22,406.15 252.56,406.67 252.89,407.19 253.23,407.70 253.56,408.21 253.89,408.72 254.23,409.22 254.56,409.72 254.90,410.22 255.23,410.72 255.57,411.21 255.90,411.70 256.24,412.18 256.57,412.67 256.90,413.15 257.24,413.63 257.57,414.10 257.91,414.57 258.24,415.04 258.58,415.50 258.91,415.97 259.25,416.42 259.58,416.88 259.91,417.33 260.25,417.78 260.58,418.23 260.92,418.67 261.25,419.11 261.59,419.54 261.92,419.97 262.26,420.40 262.59,420.83 262.92,421.25 263.26,421.67 263.59,422.08 263.93,422.50 264.26,422.90 264.60,423.31 264.93,423.71 265.27,424.11 265.60,424.50 265.94,424.89 266.27,425.28 266.60,425.67 266.94,426.05 267.27,426.42 267.61,426.80 267.94,427.17 268.28,427.53 268.61,427.90 268.95,428.26 269.28,428.61 269.61,428.97 269.95,429.32 270.28,429.66 270.62,430.01 270.95,430.34 271.29,430.68 271.62,431.01 271.96,431.34 272.29,431.67 272.62,431.99 272.96,432.31 273.29,432.62 273.63,432.93 273.96,433.24 274.30,433.55 274.63,433.85 274.97,434.15 275.30,434.44 275.63,434.73 275.97,435.02 276.30,435.31 276.64,435.59 276.97,435.87 277.31,436.14 277.64,436.42 277.98,436.69 278.31,436.95 278.64,437.21 278.98,437.47 279.31,437.73 279.65,437.98 279.98,438.23 280.32,438.48 280.65,438.72 280.99,438.96 281.32,439.20 281.65,439.44 281.99,439.67 282.32,439.90 282.66,440.12 282.99,440.35 283.33,440.57 283.66,440.78 284.00,441.00 284.33,441.21 284.66,441.42 285.00,441.63 285.33,441.83 285.67,442.03 286.00,442.23" fill="none" stroke="#a2a2a2" stroke-width="1.7"/>
<polyline points="44.13,410.12 45.20,411.70 45.53,412.18 45.87,412.67 46.20,413.15 46.54,413.63 46.87,414.10 47.20,414.57 47.54,415.04 47.87,415.50 48.21,415.97 48.54,416.42 48.88,416.88 49.21,417.33 49.55,417.78 49.88,418.23 50.21,418.67 50.55,419.11 50.88,419.54 51.22,419.97 51.55,420.40 51.89,420.83 52.22,421.25 52.56,421.67 52.89,422.08 53.22,422.50 53.56,422.90 53.89,423.31 54.23,423.71 54.56,424.11 54.90,424.50 55.23,424.89 55.57,425.28 55.90,425.67 56.23,426.05 56.57,426.42 56.90,426.80 57.24,427.17 57.57,427.53 57.91,427.90 58.24,428.26 58.58,428.61 58.91,428.97 59.24,429.32 59.58,429.66 59.91,430.01 60.25,430.34 60.58,430.68 60.92,431.01 61.25,431.34 61.59,431.67 61.92,431.99 62.25,432.31 62.59,432.62 62.92,432.93 63.26,433.24 63.59,433.55 63.93,433.85 64.26,434.15 64.60,434.44 64.93,434.73 65.26,435.02 65.60,435.31 65.93,435.59 66.27,435.87 66.60,436.14 66.94,436.42 67.27,436.69 67.61,436.95 67.94,437.21 68.28,437.47 68.61,437.73 68.94,437.98 69.28,438.23 69.61,438.48 69.95,438.72 70.28,438.96 70.62,439.20 70.95,439.44 71.29,439.67 71.62,439.90 71.95,440.12 72.29,440.35 72.62,440.57 72.96,440.78 73.29,441.00 73.63,441.21 73.96,441.42 74.30,441.63 74.63,441.83 74.96,442.03 75.30,442.23 75.63,442.42 75.97,442.61 76.30,442.80 76.64,442.99 76.97,443.17 77.31,443.36 77.64,443.53 77.97,443.71 78.31,443.88 78.64,444.06 78.98,444.22 79.31,444.39 79.65,444.56 79.98,444.72 80.32,444.88 80.65,445.03 80.98,445.19 81.32,445.34 81.65,445.49 81.99,445.64 82.32,445.78 82.66,445.93 82.99,446.07 83.33,446.20 83.66,446.34 83.99,446.48 84.33,446.61 84.66,446.74 85.00,446.87 85.33,446.99 85.67,447.12 86.00,447.24 86.34,447.36 86.67,447.48 87.00,447.59 87.34,447.71 87.67,447.82 88.01,447.93 88.34,448.04 88.68,448.15 89.01,448.25 89.35,448.35 89.68,448.46 90.01,448.55 90.35,448.65 90.68,448.75 91.02,448.84 91.35,448.94 91.69,449.03 92.02,449.12 92.36,449.21 92.69,449.29 93.02,449.38 93.36,449.46 93.69,449.54 94.03,449.63 94.36,449.70 94.70,449.78 95.03,449.86 95.37,449.93 95.70,450.01 96.03,450.08 96.37,450.15 96.70,450.22 97.04,450.29 97.37,450.36 97.71,450.42 98.04,450.49 98.38,450.55 98.71,450.61 99.04,450.67 99.38,450.73 99.71,450.79 100.05,450.85 100.38,450.91 100.72,450.96 101.05,451.02 101.39,451.07 101.72,451.12 102.05,451.17 102.39,451.22 102.72,451.27 103.06,451.32 103.39,451.37 103.73,451.41 104.06,451.46 104.40,451.50 104.73,451.55 105.06,451.59 105.40,451.63 105.73,451.59 106.07,451.55 106.40,451.50 106.74,451.46 107.07,451.41 107.41,451.37 107.74,451.32 108.07,451.27 108.41,451.22 108.74,451.17 109.08,451.12 109.41,451.07 109.75,451.02 110.08,450.96 110.42,450.91 110.75,450.85 111.08,450.79 111.42,450.73 111.75,450.67 112.09,450.61 112.42,450.55 112.76,450.49 113.09,450.42 113.43,450.36 113.76,450.29 114.09,450.22 114.43,450.15 114.76,450.08 115.10,450.01 115.43,449.93 115.77,449.86 116.10,449.78 116.44,449.70 116.77,449.63 117.10,449.54 117.44,449.46 117.77,449.38 118.11,449.29 118.44,449.21 118.78,449.12 119.11,449.03 119.45,448.94 119.78,448.84 120.11,448.75 120.45,448.65 120.78,448.55 121.12,448.46 121.45,448.35 121.79,448.25 122.12,448.15 122.46,448.04 122.79,447.93 123.12,447.82 123.46,447.71 123.79,447.59 124.13,447.48 124.46,447.36 124.80,447.24 125.13,447.12 125.47,446.99 125.80,446.87 126.13,446.74 126.47,446.61 126.80,446.48 127.14,446.34 127.47,446.20 127.81,446.07 128.14,445.93 128.48,445.78 128.81,445.64 129.14,445.49 129.48,445.34 129.81,445.19 130.15,445.03 130.48,444.88 130.82,444.72 131.15,444.56 131.49,444.39 131.82,444.22 132.16,444.06 132.49,443.88 132.82,443.71 133.16,443.53 133.49,443.36 133.83,443.17 134.16,442.99 134.50,442.80 134.83,442.61 135.17,442.42 135.50,442.23 135.83,442.03 136.17,441.83 136.50,441.63 136.84,441.42 137.17,441.21 137.51,441.00 137.84,440.78 138.18,440.57 138.51,440.35 138.84,440.12 139.18,439.90 139.51,439.67 139.85,439.44 140.18,439.20 140.52,438.96 140.85,438.72 141.19,438.48 141.52,438.23 141.85,437.98 142.19,437.73 142.52,437.47 142.86,437.21 143.19,436.95 143.53,436.69 143.86,436.42 144.20,436.14 144.53,435.87 144.86,435.59 145.20,435.31 145.53,435.02 145.87,434.73 146.20,434.44 146.54,434.15 146.87,433.85 147.21,433.55 147.54,433.24 147.87,432.93 148.21,432.62 148.54,432.31 148.88,431.99 149.21,431.67 149.55,431.34 149.88,431.01 150.22,430.68 150.55,430.34 150.88,430.01 151.22,429.66 151.55,429.32 151.89,428.97 152.22,428.61 152.56,428.26 152.89,427.90 153.23,427.53 153.56,427.17 153.89,426.80 154.23,426.42 154.56,426.05 154.90,425.67 155.23,425.28 155.57,424.89 155.90,424.50 156.24,424.11 156.57,423.71 156.90,423.31 157.24,422.90 157.57,422.50 157.91,422.08 158.24,421.67 158.58,421.25 158.91,420.83 159.25,420.40 159.58,419.97 159.91,419.54 160.25,419.11 160.58,418.67 160.92,418.23 161.25,417.78 161.59,417.33 161.92,416.88 162.26,416.42 162.59,415.97 162.92,415.50 163.26,415.04 163.59,414.57 163.93,414.10 164.26,413.63 164.60,413.15 164.93,412.67 165.27,412.18 165.60,411.70 165.93,411.21 166.27,410.72 166.60,410.22 166.94,409.72 167.27,409.22 167.61,408.72 167.94,408.21 168.28,407.70 168.61,407.19 168.94,406.67 169.28,406.15 169.61,405.63 169.95,405.11 170.28,404.58 170.62,404.05 170.95,403.52 171.29,402.99 171.62,402.46 171.95,401.92 172.29,401.38 172.62,400.83 172.96,400.29 173.29,399.74 173.63,399.19 173.96,398.64 174.30,398.09 174.63,397.54 174.96,396.98 175.30,396.42 175.63,395.86 175.97,395.30 176.30,394.73 176.64,394.17 176.97,393.60 177.31,393.03 177.64,392.46 177.97,391.89 178.31,391.32 178.64,390.74 178.98,390.17 179.31,389.59 179.65,389.02 179.98,388.44 180.32,387.86 180.65,387.28 180.98,386.70 181.32,386.11 181.65,385.53 181.99,384.95 182.32,384.37 182.66,383.78 182.99,383.20 183.33,382.61 183.66,382.03 183.99,381.44 184.33,380.86 184.66,380.27 185.00,379.69 185.33,379.10 185.67,378.52 186.00,377.94 186.34,377.35 186.67,376.77 187.00,376.19 187.34,375.60 187.67,375.02 188.01,374.44 188.34,373.86 188.68,373.28 189.01,372.70 189.35,372.13 189.68,371.55 190.01,370.98 190.35,370.41 190.68,369.83 191.02,369.26 191.35,368.70 191.69,368.13 192.02,367.56 192.36,367.00 192.69,366.44 193.02,365.88 193.36,365.32 193.69,364.77 194.03,364.22 194.36,363.67 194.70,363.12 195.03,362.58 195.37,362.03 195.70,361.50 196.03,360.96 196.37,360.42 196.70,359.89 197.04,359.37 197.37,358.84 197.71,358.32 198.04,357.80 198.38,357.29 198.71,356.78 199.04,356.27 199.38,355.77 199.71,355.27 200.05,354.77 200.38,354.28 200.72,353.79 201.05,353.31 201.39,352.83 201.72,352.35 202.06,351.88 202.39,351.42 202.72,350.95 203.06,350.50 203.39,350.04 203.73,349.60 204.06,349.15 204.40,348.71 204.73,348.28 205.07,347.85 205.40,347.43 205.73,347.01 206.07,346.60 206.40,346.19 206.74,345.79 207.07,345.40 207.41,345.00 207.74,344.62 208.08,344.24 208.41,343.87 208.74,343.50 209.08,343.14 209.41,342.78 209.75,342.43 210.08,342.09 210.42,341.75 210.75,341.42 211.09,341.10 211.42,340.78 211.75,340.47 212.09,340.16 212.42,339.86 212.76,339.57 213.09,339.29 213.43,339.01 213.76,338.74 214.10,338.47 214.43,338.21 214.76,337.96 215.10,337.72 215.43,337.48 215.77,337.25 216.10,337.03 216.44,336.81 216.77,336.60 217.11,336.40 217.44,336.21 217.77,336.02 218.11,335.84 218.44,335.67 218.78,335.50 219.11,335.35 219.45,335.20 219.78,335.05 220.12,334.92 220.45,334.79 220.78,334.67 221.12,334.56 221.45,334.46 221.79,334.36 222.12,334.27 222.46,334.19 222.79,334.11 223.13,334.05 223.46,333.99 223.79,333.94 224.13,333.90 224.46,333.86 224.80,333.83 225.13,333.82 225.47,333.80 225.80,333.80 226.14,333.80 226.47,333.82 226.80,333.83 227.14,333.86 227.47,333.90 227.81,333.94 228.14,333.99 228.48,334.05 228.81,334.11 229.15,334.19 229.48,334.27 229.81,334.36 230.15,334.46 230.48,334.56 230.82,334.67 231.15,334.79 231.49,334.92 231.82,335.05 232.16,335.20 232.49,335.35 232.82,335.50 233.16,335.67 233.49,335.84 233.83,336.02 234.16,336.21 234.50,336.40 234.83,336.60 235.17,336.81 235.50,337.03 235.83,337.25 236.17,337.48 236.50,337.72 236.84,337.96 237.17,338.21 237.51,338.47 237.84,338.74 238.18,339.01 238.51,339.29 238.84,339.57 239.18,339.86 239.51,340.16 239.85,340.47 240.18,340.78 240.52,341.10 240.85,341.42 241.19,341.75 241.52,342.09 241.85,342.43 242.19,342.78 242.52,343.14 242.86,343.50 243.19,343.87 243.53,344.24 243.86,344.62 244.20,345.00 244.53,345.40 244.86,345.79 245.20,346.19 245.53,346.60 245.87,347.01 246.20,347.43 246.54,347.85 246.87,348.28 247.21,348.71 247.54,349.15 247.87,349.60 248.21,350.04 248.54,350.50 248.88,350.95 249.21,351.42 249.55,351.88 249.88,352.35 250.22,352.83 250.55,353.31 250.88,353.79 251.22,354.28 251.55,354.77 251.89,355.27 252.22,355.77 252.56,356.27 252.89,356.78 253.23,357.29 253.56,357.80 253.89,358.32 254.23,358.84 254.56,359.37 254.90,359.89 255.23,360.42 255.57,360.96 255.90,361.50 256.24,362.03 256.57,362.58 256.90,363.12 257.24,363.67 257.57,364.22 257.91,364.77 258.24,365.32 258.58,365.88 258.91,366.44 259.25,367.00 259.58,367.56 259.91,368.13 260.25,368.70 260.58,369.26 260.92,369.83 261.25,370.41 261.59,370.98 261.92,371.55 262.26,372.13 262.59,372.70 262.92,373.28 263.26,373.86 263.59,374.44 263.93,375.02 264.26,375.60 264.60,376.19 264.93,376.77 265.27,377.35 265.60,377.94 265.94,378.52 266.27,379.10 266.60,379.69 266.94,380.27 267.27,380.86 267.61,381.44 267.94,382.03 268.28,382.61 268.61,383.20 268.95,383.78 269.28,384.37 269.61,384.95 269.95,385.53 270.28,386.11 270.62,386.70 270.95,387.28 271.29,387.86 271.62,388.44 271.96,389.02 272.29,389.59 272.62,390.17 272.96,390.74 273.29,391.32 273.63,391.89 273.96,392.46 274.30,393.03 274.63,393.60 274.97,394.17 275.30,394.73 275.63,395.30 275.97,395.86 276.30,396.42 276.64,396.98 276.97,397.54 277.31,398.09 277.64,398.64 277.98,399.19 278.31,399.74 278.64,400.29 278.98,400.83 279.31,401.38 279.65,401.92 279.98,402.46 280.32,402.99 280.65,403.52 280.99,404.05 281.32,404.58 281.65,405.11 281.99,405.63 282.32,406.15 282.66,406.67 282.99,407.19 283.33,407.70 283.66,408.21 284.00,408.72 284.33,409.22 284.66,409.72 285.00,410.22 285.33,410.72 285.67,411.21 286.00,411.70" fill="none" stroke="#a2a2a2" stroke-width="1.7"/>
<polyline points="44.13,359.79 45.20,361.50 45.53,362.03 45.87,362.58 46.20,363.12 46.54,363.67 46.87,364.22 47.20,364.77 47.54,365.32 47.87,365.88 48.21,366.44 48.54,367.00 48.88,367.56 49.21,368.13 49.55,368.70 49.88,369.26 50.21,369.83 50.55,370.41 50.88,370.98 51.22,371.55 51.55,372.13 51.89,372.70 52.22,373.28 52.56,373.86 52.89,374.44 53.22,375.02 53.56,375.60 53.89,376.19 54.23,376.77 54.56,377.35 54.90,377.94 55.23,378.52 55.57,379.10 55.90,379.69 56.23,380.27 56.57,380.86 56.90,381.44 57.24,382.03 57.57,382.61 57.91,383.20 58.24,383.78 58.58,384.37 58.91,384.95 59.24,385.53 59.58,386.11 59.91,386.70 60.25,387.28 60.58,387.86 60.92,388.44 61.25,389.02 61.59,389.59 61.92,390.17 62.25,390.74 62.59,391.32 62.92,391.89 63.26,392.46 63.59,393.03 63.93,393.60 64.26,394.17 64.60,394.73 64.93,395.30 65.26,395.86 65.60,396.42 65.93,396.98 66.27,397.54 66.60,398.09 66.94,398.64 67.27,399.19 67.61,399.74 67.94,400.29 68.28,400.83 68.61,401.38 68.94,401.92 69.28,402.46 69.61,402.99 69.95,403.52 70.28,404.05 70.62,404.58 70.95,405.11 71.29,405.63 71.62,406.15 71.95,406.67 72.29,407.19 72.62,407.70 72.96,408.21 73.29,408.72 73.63,409.22 73.96,409.72 74.30,410.22 74.63,410.72 74.96,411.21 75.30,411.70 75.63,412.18 75.97,412.67 76.30,413.15 76.64,413.63 76.97,414.10 77.31,414.57 77.64,415.04 77.97,415.50 78.31,415.97 78.64,416.42 78.98,416.88 79.31,417.33 79.65,417.78 79.98,418.23 80.32,418.67 80.65,419.11 80.98,419.54 81.32,419.97 81.65,420.40 81.99,420.83 82.32,421.25 82.66,421.67 82.99,422.08 83.33,422.50 83.66,422.90 83.99,423.31 84.33,423.71 84.66,424.11 85.00,424.50 85.33,424.89 85.67,425.28 86.00,425.67 86.34,426.05 86.67,426.42 87.00,426.80 87.34,427.17 87.67,427.53 88.01,427.90 88.34,428.26 88.68,428.61 89.01,428.97 89.35,429.32 89.68,429.66 90.01,430.01 90.35,430.34 90.68,430.68 91.02,431.01 91.35,431.34 91.69,431.67 92.02,431.99 92.36,432.31 92.69,432.62 93.02,432.93 93.36,433.24 93.69,433.55 94.03,433.85 94.36,434.15 94.70,434.44 95.03,434.73 95.37,435.02 95.70,435.31 96.03,435.59 96.37,435.87 96.70,436.14 97.04,436.42 97.37,436.69 97.71,436.95 98.04,437.21 98.38,437.47 98.71,437.73 99.04,437.98 99.38,438.23 99.71,438.48 100.05,438.72 100.38,438.96 100.72,439.20 101.05,439.44 101.39,439.67 101.72,439.90 102.05,440.12 102.39,440.35 102.72,440.57 103.06,440.78 103.39,441.00 103.73,441.21 104.06,441.42 104.40,441.63 104.73,441.83 105.06,442.03 105.40,442.23 105.73,442.42 106.07,442.61 106.40,442.80 106.74,442.99 107.07,443.17 107.41,443.36 107.74,443.53 108.07,443.71 108.41,443.88 108.74,444.06 109.08,444.22 109.41,444.39 109.75,444.56 110.08,444.72 110.42,444.88 110.75,445.03 111.08,445.19 111.42,445.34 111.75,445.49 112.09,445.64 112.42,445.78 112.76,445.93 113.09,446.07 113.43,446.20 113.76,446.34 114.09,446.48 114.43,446.61 114.76,446.74 115.10,446.87 115.43,446.99 115.77,447.12 116.10,447.24 116.44,447.36 116.77,447.48 117.10,447.59 117.44,447.71 117.77,447.82 118.11,447.93 118.44,448.04 118.78,448.15 119.11,448.25 119.45,448.35 119.78,448.46 120.11,448.55 120.45,448.65 120.78,448.75 121.12,448.84 121.45,448.94 121.79,449.03 122.12,449.12 122.46,449.21 122.79,449.29 123.12,449.38 123.46,449.46 123.79,449.54 124.13,449.63 124.46,449.70 124.80,449.78 125.13,449.86 125.47,449.93 125.80,450.01 126.13,450.08 126.47,450.15 126.80,450.22 127.14,450.29 127.47,450.36 127.81,450.42 128.14,450.49 128.48,450.55 128.81,450.61 129.14,450.67 129.48,450.73 129.81,450.79 130.15,450.85 130.48,450.91 130.82,450.96 131.15,451.02 131.49,451.07 131.82,451.12 132.16,451.17 132.49,451.22 132.82,451.27 133.16,451.32 133.49,451.37 133.83,451.41 134.16,451.46 134.50,451.50 134.83,451.55 135.17,451.59 135.50,451.63 135.83,451.59 136.17,451.55 136.50,451.50 136.84,451.46 137.17,451.41 137.51,451.37 137.84,451.32 138.18,451.27 138.51,451.22 138.84,451.17 139.18,451.12 139.51,451.07 139.85,451.02 140.18,450.96 140.52,450.91 140.85,450.85 141.19,450.79 141.52,450.73 141.85,450.67 142.19,450.61 142.52,450.55 142.86,450.49 143.19,450.42 143.53,450.36 143.86,450.29 144.20,450.22 144.53,450.15 144.86,450.08 145.20,450.01 145.53,449.93 145.87,449.86 146.20,449.78 146.54,449.70 146.87,449.63 147.21,449.54 147.54,449.46 147.87,449.38 148.21,449.29 148.54,449.21 148.88,449.12 149.21,449.03 149.55,448.94 149.88,448.84 150.22,448.75 150.55,448.65 150.88,448.55 151.22,448.46 151.55,448.35 151.89,448.25 152.22,448.15 152.56,448.04 152.89,447.93 153.23,447.82 153.56,447.71 153.89,447.59 154.23,447.48 154.56,447.36 154.90,447.24 155.23,447.12 155.57,446.99 155.90,446.87 156.24,446.74 156.57,446.61 156.90,446.48 157.24,446.34 157.57,446.20 157.91,446.07 158.24,445.93 158.58,445.78 158.91,445.64 159.25,445.49 159.58,445.34 159.91,445.19 160.25,445.03 160.58,444.88 160.92,444.72 161.25,444.56 161.59,444.39 161.92,444.22 162.26,444.06 162.59,443.88 162.92,443.71 163.26,443.53 163.59,443.36 163.93,443.17 164.26,442.99 164.60,442.80 164.93,442.61 165.27,442.42 165.60,442.23 165.93,442.03 166.27,441.83 166.60,441.63 166.94,441.42 167.27,441.21 167.61,441.00 167.94,440.78 168.28,440.57 168.61,440.35 168.94,440.12 169.28,439.90 169.61,439.67 169.95,439.44 170.28,439.20 170.62,438.96 170.95,438.72 171.29,438.48 171.62,438.23 171.95,437.98 172.29,437.73 172.62,437.47 172.96,437.21 173.29,436.95 173.63,436.69 173.96,436.42 174.30,436.14 174.63,435.87 174.96,435.59 175.30,435.31 175.63,435.02 175.97,434.73 176.30,434.44 176.64,434.15 176.97,433.85 177.31,433.55 177.64,433.24 177.97,432.93 178.31,432.62 178.64,432.31 178.98,431.99 179.31,431.67 179.65,431.34 179.98,431.01 180.32,430.68 180.65,430.34 180.98,430.01 181.32,429.66 181.65,429.32 181.99,428.97 182.32,428.61 182.66,428.26 182.99,427.90 183.33,427.53 183.66,427.17 183.99,426.80 184.33,426.42 184.66,426.05 185.00,425.67 185.33,425.28 185.67,424.89 186.00,424.50 186.34,424.11 186.67,423.71 187.00,423.31 187.34,422.90 187.67,422.50 188.01,422.08 188.34,421.67 188.68,421.25 189.01,420.83 189.35,420.40 189.68,419.97 190.01,419.54 190.35,419.11 190.68,418.67 191.02,418.23 191.35,417.78 191.69,417.33 192.02,416.88 192.36,416.42 192.69,415.97 193.02,415.50 193.36,415.04 193.69,414.57 194.03,414.10 194.36,413.63 194.70,413.15 195.03,412.67 195.37,412.18 195.70,411.70 196.03,411.21 196.37,410.72 196.70,410.22 197.04,409.72 197.37,409.22 197.71,408.72 198.04,408.21 198.38,407.70 198.71,407.19 199.04,406.67 199.38,406.15 199.71,405.63 200.05,405.11 200.38,404.58 200.72,404.05 201.05,403.52 201.39,402.99 201.72,402.46 202.06,401.92 202.39,401.38 202.72,400.83 203.06,400.29 203.39,399.74 203.73,399.19 204.06,398.64 204.40,398.09 204.73,397.54 205.07,396.98 205.40,396.42 205.73,395.86 206.07,395.30 206.40,394.73 206.74,394.17 207.07,393.60 207.41,393.03 207.74,392.46 208.08,391.89 208.41,391.32 208.74,390.74 209.08,390.17 209.41,389.59 209.75,389.02 210.08,388.44 210.42,387.86 210.75,387.28 211.09,386.70 211.42,386.11 211.75,385.53 212.09,384.95 212.42,384.37 212.76,383.78 213.09,383.20 213.43,382.61 213.76,382.03 214.10,381.44 214.43,380.86 214.76,380.27 215.10,379.69 215.43,379.10 215.77,378.52 216.10,377.94 216.44,377.35 216.77,376.77 217.11,376.19 217.44,375.60 217.77,375.02 218.11,374.44 218.44,373.86 218.78,373.28 219.11,372.70 219.45,372.13 219.78,371.55 220.12,370.98 220.45,370.41 220.78,369.83 221.12,369.26 221.45,368.70 221.79,368.13 222.12,367.56 222.46,367.00 222.79,366.44 223.13,365.88 223.46,365.32 223.79,364.77 224.13,364.22 224.46,363.67 224.80,363.12 225.13,362.58 225.47,362.03 225.80,361.50 226.14,360.96 226.47,360.42 226.80,359.89 227.14,359.37 227.47,358.84 227.81,358.32 228.14,357.80 228.48,357.29 228.81,356.78 229.15,356.27 229.48,355.77 229.81,355.27 230.15,354.77 230.48,354.28 230.82,353.79 231.15,353.31 231.49,352.83 231.82,352.35 232.16,351.88 232.49,351.42 232.82,350.95 233.16,350.50 233.49,350.04 233.83,349.60 234.16,349.15 234.50,348.71 234.83,348.28 235.17,347.85 235.50,347.43 235.83,347.01 236.17,346.60 236.50,346.19 236.84,345.79 237.17,345.40 237.51,345.00 237.84,344.62 238.18,344.24 238.51,343.87 238.84,343.50 239.18,343.14 239.51,342.78 239.85,342.43 240.18,342.09 240.52,341.75 240.85,341.42 241.19,341.10 241.52,340.78 241.85,340.47 242.19,340.16 242.52,339.86 242.86,339.57 243.19,339.29 243.53,339.01 243.86,338.74 244.20,338.47 244.53,338.21 244.86,337.96 245.20,337.72 245.53,337.48 245.87,337.25 246.20,337.03 246.54,336.81 246.87,336.60 247.21,336.40 247.54,336.21 247.87,336.02 248.21,335.84 248.54,335.67 248.88,335.50 249.21,335.35 249.55,335.20 249.88,335.05 250.22,334.92 250.55,334.79 250.88,334.67 251.22,334.56 251.55,334.46 251.89,334.36 252.22,334.27 252.56,334.19 252.89,334.11 253.23,334.05 253.56,333.99 253.89,333.94 254.23,333.90 254.56,333.86 254.90,333.83 255.23,333.82 255.57,333.80 255.90,333.80 256.24,333.80 256.57,333.82 256.90,333.83 257.24,333.86 257.57,333.90 257.91,333.94 258.24,333.99 258.58,334.05 258.91,334.11 259.25,334.19 259.58,334.27 259.91,334.36 260.25,334.46 260.58,334.56 260.92,334.67 261.25,334.79 261.59,334.92 261.92,335.05 262.26,335.20 262.59,335.35 262.92,335.50 263.26,335.67 263.59,335.84 263.93,336.02 264.26,336.21 264.60,336.40 264.93,336.60 265.27,336.81 265.60,337.03 265.94,337.25 266.27,337.48 266.60,337.72 266.94,337.96 267.27,338.21 267.61,338.47 267.94,338.74 268.28,339.01 268.61,339.29 268.95,339.57 269.28,339.86 269.61,340.16 269.95,340.47 270.28,340.78 270.62,341.10 270.95,341.42 271.29,341.75 271.62,342.09 271.96,342.43 272.29,342.78 272.62,343.14 272.96,343.50 273.29,343.87 273.63,344.24 273.96,344.62 274.30,345.00 274.63,345.40 274.97,345.79 275.30,346.19 275.63,346.60 275.97,347.01 276.30,347.43 276.64,347.85 276.97,348.28 277.31,348.71 277.64,349.15 277.98,349.60 278.31,350.04 278.64,350.50 278.98,350.95 279.31,351.42 279.65,351.88 279.98,352.35 280.32,352.83 280.65,353.31 280.99,353.79 281.32,354.28 281.65,354.77 281.99,355.27 282.32,355.77 282.66,356.27 282.99,356.78 283.33,357.29 283.66,357.80 284.00,358.32 284.33,358.84 284.66,359.37 285.00,359.89 285.33,360.42 285.67,360.96 286.00,361.50" fill="none" stroke="#a2a2a2" stroke-width="1.7"/>
<clipPath id="cclip"><rect x="0" y="300" width="300" height="152.2"/></clipPath>
<polyline points="44.13,451.40 45.20,451.53 45.53,451.49 45.87,451.45 46.20,451.40 46.54,451.36 46.87,451.31 47.20,451.27 47.54,451.22 47.87,451.17 48.21,451.12 48.54,451.07 48.88,451.02 49.21,450.97 49.55,450.92 49.88,450.86 50.21,450.81 50.55,450.75 50.88,450.69 51.22,450.63 51.55,450.57 51.89,450.51 52.22,450.45 52.56,450.39 52.89,450.32 53.22,450.26 53.56,450.19 53.89,450.12 54.23,450.05 54.56,449.98 54.90,449.91 55.23,449.83 55.57,449.76 55.90,449.68 56.23,449.60 56.57,449.53 56.90,449.44 57.24,449.36 57.57,449.28 57.91,449.19 58.24,449.11 58.58,449.02 58.91,448.93 59.24,448.84 59.58,448.74 59.91,448.65 60.25,448.55 60.58,448.45 60.92,448.36 61.25,448.25 61.59,448.15 61.92,448.05 62.25,447.94 62.59,447.83 62.92,447.72 63.26,447.61 63.59,447.49 63.93,447.38 64.26,447.26 64.60,447.14 64.93,447.02 65.26,446.89 65.60,446.77 65.93,446.64 66.27,446.51 66.60,446.38 66.94,446.24 67.27,446.10 67.61,445.97 67.94,445.83 68.28,445.68 68.61,445.54 68.94,445.39 69.28,445.24 69.61,445.09 69.95,444.93 70.28,444.78 70.62,444.62 70.95,444.46 71.29,444.29 71.62,444.12 71.95,443.96 72.29,443.78 72.62,443.61 72.96,443.43 73.29,443.26 73.63,443.07 73.96,442.89 74.30,442.70 74.63,442.51 74.96,442.32 75.30,442.13 75.63,441.93 75.97,441.73 76.30,441.53 76.64,441.32 76.97,441.11 77.31,440.90 77.64,440.68 77.97,440.47 78.31,440.25 78.64,440.02 78.98,439.80 79.31,439.57 79.65,439.34 79.98,439.10 80.32,438.86 80.65,438.62 80.98,438.38 81.32,438.13 81.65,437.88 81.99,437.63 82.32,437.37 82.66,437.11 82.99,436.85 83.33,436.59 83.66,436.32 83.99,436.04 84.33,435.77 84.66,435.49 85.00,435.21 85.33,434.92 85.67,434.63 86.00,434.34 86.34,434.05 86.67,433.75 87.00,433.45 87.34,433.14 87.67,432.83 88.01,432.52 88.34,432.21 88.68,431.89 89.01,431.57 89.35,431.24 89.68,430.91 90.01,430.58 90.35,430.24 90.68,429.91 91.02,429.56 91.35,429.22 91.69,428.87 92.02,428.51 92.36,428.16 92.69,427.80 93.02,427.43 93.36,427.07 93.69,426.70 94.03,426.32 94.36,425.95 94.70,425.57 95.03,425.18 95.37,424.79 95.70,424.40 96.03,424.01 96.37,423.61 96.70,423.21 97.04,422.80 97.37,422.40 97.71,421.98 98.04,421.57 98.38,421.15 98.71,420.73 99.04,420.30 99.38,419.87 99.71,419.44 100.05,419.01 100.38,418.57 100.72,418.13 101.05,417.68 101.39,417.23 101.72,416.78 102.05,416.32 102.39,415.87 102.72,415.40 103.06,414.94 103.39,414.47 103.73,414.00 104.06,413.53 104.40,413.05 104.73,412.57 105.06,412.08 105.40,411.60 105.73,411.11 106.07,410.62 106.40,410.12 106.74,409.62 107.07,409.12 107.41,408.62 107.74,408.11 108.07,407.60 108.41,407.09 108.74,406.57 109.08,406.05 109.41,405.53 109.75,405.01 110.08,404.48 110.42,403.95 110.75,403.42 111.08,402.89 111.42,402.36 111.75,401.82 112.09,401.28 112.42,400.73 112.76,400.19 113.09,399.64 113.43,399.09 113.76,398.54 114.09,397.99 114.43,397.44 114.76,396.88 115.10,396.32 115.43,395.76 115.77,395.20 116.10,394.63 116.44,394.07 116.77,393.50 117.10,392.93 117.44,392.36 117.77,391.79 118.11,391.22 118.44,390.64 118.78,390.07 119.11,389.49 119.45,388.92 119.78,388.34 120.11,387.76 120.45,387.18 120.78,386.60 121.12,386.01 121.45,385.43 121.79,384.85 122.12,384.27 122.46,383.68 122.79,383.10 123.12,382.51 123.46,381.93 123.79,381.34 124.13,380.76 124.46,380.17 124.80,379.59 125.13,379.00 125.47,378.42 125.80,377.84 126.13,377.25 126.47,376.67 126.80,376.09 127.14,375.50 127.47,374.92 127.81,374.34 128.14,373.76 128.48,373.18 128.81,372.60 129.14,372.03 129.48,371.45 129.81,370.88 130.15,370.31 130.48,369.73 130.82,369.16 131.15,368.60 131.49,368.03 131.82,367.46 132.16,366.90 132.49,366.34 132.82,365.78 133.16,365.22 133.49,364.67 133.83,364.12 134.16,363.57 134.50,363.02 134.83,362.48 135.17,361.93 135.50,361.40 135.83,360.86 136.17,360.32 136.50,359.79 136.84,359.27 137.17,358.74 137.51,358.22 137.84,357.70 138.18,357.19 138.51,356.68 138.84,356.17 139.18,355.67 139.51,355.17 139.85,354.67 140.18,354.18 140.52,353.69 140.85,353.21 141.19,352.73 141.52,352.25 141.85,351.78 142.19,351.32 142.52,350.85 142.86,350.40 143.19,349.94 143.53,349.50 143.86,349.05 144.20,348.61 144.53,348.18 144.86,347.75 145.20,347.33 145.53,346.91 145.87,346.50 146.20,346.09 146.54,345.69 146.87,345.30 147.21,344.90 147.54,344.52 147.87,344.14 148.21,343.77 148.54,343.40 148.88,343.04 149.21,342.68 149.55,342.33 149.88,341.99 150.22,341.65 150.55,341.32 150.88,341.00 151.22,340.68 151.55,340.37 151.89,340.06 152.22,339.76 152.56,339.47 152.89,339.19 153.23,338.91 153.56,338.64 153.89,338.37 154.23,338.11 154.56,337.86 154.90,337.62 155.23,337.38 155.57,337.15 155.90,336.93 156.24,336.71 156.57,336.50 156.90,336.30 157.24,336.11 157.57,335.92 157.91,335.74 158.24,335.57 158.58,335.40 158.91,335.25 159.25,335.10 159.58,334.95 159.91,334.82 160.25,334.69 160.58,334.57 160.92,334.46 161.25,334.36 161.59,334.26 161.92,334.17 162.26,334.09 162.59,334.01 162.92,333.95 163.26,333.89 163.59,333.84 163.93,333.80 164.26,333.76 164.60,333.73 164.93,333.72 165.27,333.70 165.60,333.70 165.93,333.70 166.27,333.72 166.60,333.73 166.94,333.76 167.27,333.80 167.61,333.84 167.94,333.89 168.28,333.95 168.61,334.01 168.94,334.09 169.28,334.17 169.61,334.26 169.95,334.36 170.28,334.46 170.62,334.57 170.95,334.69 171.29,334.82 171.62,334.95 171.95,335.10 172.29,335.25 172.62,335.40 172.96,335.57 173.29,335.74 173.63,335.92 173.96,336.11 174.30,336.30 174.63,336.50 174.96,336.71 175.30,336.93 175.63,337.15 175.97,337.38 176.30,337.62 176.64,337.86 176.97,338.11 177.31,338.37 177.64,338.64 177.97,338.91 178.31,339.19 178.64,339.47 178.98,339.76 179.31,340.06 179.65,340.37 179.98,340.68 180.32,341.00 180.65,341.32 180.98,341.65 181.32,341.99 181.65,342.33 181.99,342.68 182.32,343.04 182.66,343.40 182.99,343.77 183.33,344.14 183.66,344.52 183.99,344.90 184.33,345.30 184.66,345.69 185.00,346.09 185.33,346.50 185.67,346.91 186.00,347.33 186.34,347.75 186.67,348.18 187.00,348.61 187.34,349.05 187.67,349.50 188.01,349.94 188.34,350.40 188.68,350.85 189.01,351.32 189.35,351.78 189.68,352.25 190.01,352.73 190.35,353.21 190.68,353.69 191.02,354.18 191.35,354.67 191.69,355.17 192.02,355.67 192.36,356.17 192.69,356.68 193.02,357.19 193.36,357.70 193.69,358.22 194.03,358.74 194.36,359.27 194.70,359.79 195.03,360.32 195.37,360.86 195.70,361.40 196.03,361.93 196.37,362.48 196.70,363.02 197.04,363.57 197.37,364.12 197.71,364.67 198.04,365.22 198.38,365.78 198.71,366.34 199.04,366.90 199.38,367.46 199.71,368.03 200.05,368.60 200.38,369.16 200.72,369.73 201.05,370.31 201.39,370.88 201.72,371.45 202.06,372.03 202.39,372.60 202.72,373.18 203.06,373.76 203.39,374.34 203.73,374.92 204.06,375.50 204.40,376.09 204.73,376.67 205.07,377.25 205.40,377.84 205.73,378.42 206.07,379.00 206.40,379.59 206.74,380.17 207.07,380.76 207.41,381.34 207.74,381.93 208.08,382.51 208.41,383.10 208.74,383.68 209.08,384.27 209.41,384.85 209.75,385.43 210.08,386.01 210.42,386.60 210.75,387.18 211.09,387.76 211.42,388.34 211.75,388.92 212.09,389.49 212.42,390.07 212.76,390.64 213.09,391.22 213.43,391.79 213.76,392.36 214.10,392.93 214.43,393.50 214.76,394.07 215.10,394.63 215.43,395.20 215.77,395.76 216.10,396.32 216.44,396.88 216.77,397.44 217.11,397.99 217.44,398.54 217.77,399.09 218.11,399.64 218.44,400.19 218.78,400.73 219.11,401.28 219.45,401.82 219.78,402.36 220.12,402.89 220.45,403.42 220.78,403.95 221.12,404.48 221.45,405.01 221.79,405.53 222.12,406.05 222.46,406.57 222.79,407.09 223.13,407.60 223.46,408.11 223.79,408.62 224.13,409.12 224.46,409.62 224.80,410.12 225.13,410.62 225.47,411.11 225.80,411.60 226.14,412.08 226.47,412.57 226.80,413.05 227.14,413.53 227.47,414.00 227.81,414.47 228.14,414.94 228.48,415.40 228.81,415.87 229.15,416.32 229.48,416.78 229.81,417.23 230.15,417.68 230.48,418.13 230.82,418.57 231.15,419.01 231.49,419.44 231.82,419.87 232.16,420.30 232.49,420.73 232.82,421.15 233.16,421.57 233.49,421.98 233.83,422.40 234.16,422.80 234.50,423.21 234.83,423.61 235.17,424.01 235.50,424.40 235.83,424.79 236.17,425.18 236.50,425.57 236.84,425.95 237.17,426.32 237.51,426.70 237.84,427.07 238.18,427.43 238.51,427.80 238.84,428.16 239.18,428.51 239.51,428.87 239.85,429.22 240.18,429.56 240.52,429.91 240.85,430.24 241.19,430.58 241.52,430.91 241.85,431.24 242.19,431.57 242.52,431.89 242.86,432.21 243.19,432.52 243.53,432.83 243.86,433.14 244.20,433.45 244.53,433.75 244.86,434.05 245.20,434.34 245.53,434.63 245.87,434.92 246.20,435.21 246.54,435.49 246.87,435.77 247.21,436.04 247.54,436.32 247.87,436.59 248.21,436.85 248.54,437.11 248.88,437.37 249.21,437.63 249.55,437.88 249.88,438.13 250.22,438.38 250.55,438.62 250.88,438.86 251.22,439.10 251.55,439.34 251.89,439.57 252.22,439.80 252.56,440.02 252.89,440.25 253.23,440.47 253.56,440.68 253.89,440.90 254.23,441.11 254.56,441.32 254.90,441.53 255.23,441.73 255.57,441.93 255.90,442.13 256.24,442.32 256.57,442.51 256.90,442.70 257.24,442.89 257.57,443.07 257.91,443.26 258.24,443.43 258.58,443.61 258.91,443.78 259.25,443.96 259.58,444.12 259.91,444.29 260.25,444.46 260.58,444.62 260.92,444.78 261.25,444.93 261.59,445.09 261.92,445.24 262.26,445.39 262.59,445.54 262.92,445.68 263.26,445.83 263.59,445.97 263.93,446.10 264.26,446.24 264.60,446.38 264.93,446.51 265.27,446.64 265.60,446.77 265.94,446.89 266.27,447.02 266.60,447.14 266.94,447.26 267.27,447.38 267.61,447.49 267.94,447.61 268.28,447.72 268.61,447.83 268.95,447.94 269.28,448.05 269.61,448.15 269.95,448.25 270.28,448.36 270.62,448.45 270.95,448.55 271.29,448.65 271.62,448.74 271.96,448.84 272.29,448.93 272.62,449.02 272.96,449.11 273.29,449.19 273.63,449.28 273.96,449.36 274.30,449.44 274.63,449.53 274.97,449.60 275.30,449.68 275.63,449.76 275.97,449.83 276.30,449.91 276.64,449.98 276.97,450.05 277.31,450.12 277.64,450.19 277.98,450.26 278.31,450.32 278.64,450.39 278.98,450.45 279.31,450.51 279.65,450.57 279.98,450.63 280.32,450.69 280.65,450.75 280.99,450.81 281.32,450.86 281.65,450.92 281.99,450.97 282.32,451.02 282.66,451.07 282.99,451.12 283.33,451.17 283.66,451.22 284.00,451.27 284.33,451.31 284.66,451.36 285.00,451.40 285.33,451.45 285.67,451.49 286.00,451.53" fill="none" stroke="#2f78c4" stroke-width="3.5" stroke-linejoin="round" clip-path="url(#cclip)"/>
<path d="M49.2,321.9 L44,321.9 L44,454 L286,454 L286,448.8 M165.1,454 L165.1,448.8" fill="none" stroke="#1a1a1a" stroke-width="1.6"/>
<text x="26.50" y="475.6" font-family="'Liberation Sans', sans-serif" font-size="21.2" fill="#000">-</text>
<path d="M41.47,475.60 L41.47,460.57 L39.92,460.57 C39.71,461.82 38.86,463.09 35.87,463.35 L35.87,464.79 L39.62,464.79 L39.62,475.60 Z" fill="#000"/>
<text x="45.35" y="475.6" font-family="'Liberation Sans', sans-serif" font-size="21.2" fill="#000">8</text>
<text x="57.14" y="475.6" font-family="'Liberation Sans', sans-serif" font-size="21.2" fill="#000">0</text>
<text x="158.40" y="475.6" font-family="'Liberation Sans', sans-serif" font-size="21.2" fill="#000">0</text>
<path d="M274.11,475.60 L274.11,460.57 L272.56,460.57 C272.35,461.82 271.50,463.09 268.51,463.35 L268.51,464.79 L272.26,464.79 L272.26,475.60 Z" fill="#000"/>
<text x="277.99" y="475.6" font-family="'Liberation Sans', sans-serif" font-size="21.2" fill="#000">8</text>
<text x="289.78" y="475.6" font-family="'Liberation Sans', sans-serif" font-size="21.2" fill="#000">0</text>
<text x="70.2" y="501.9" font-family="'Liberation Sans', sans-serif" font-size="21.1" fill="#000" textLength="169.27" lengthAdjust="spacingAndGlyphs">Exc. neuron index</text>
<text x="0" y="0" font-family="'Liberation Serif', serif" font-style="italic" font-size="24" fill="#000" transform="translate(245.2,502.0) scale(1.0,1.0)">θ</text>
<text transform="translate(20.5,436.6) rotate(-90)" font-family="'Liberation Sans', sans-serif" font-size="21.1" fill="#000">Firing rate</text>
<text x="312.8" y="178.1" font-family="'Liberation Sans', sans-serif" font-size="44" fill="#000">d</text>
<path d="M385.5,212.3 L382.3,212.3 L382.3,454.2 L624.9,454.2" fill="none" stroke="#383838" stroke-width="1.6"/>
<line x1="382.3" y1="272.8" x2="385.6" y2="272.8" stroke="#383838" stroke-width="1.4"/>
<line x1="382.3" y1="333.2" x2="385.6" y2="333.2" stroke="#383838" stroke-width="1.4"/>
<line x1="382.3" y1="393.5" x2="385.6" y2="393.5" stroke="#383838" stroke-width="1.4"/>
<line x1="382.3" y1="454.2" x2="382.3" y2="451.0" stroke="#383838" stroke-width="1.4"/>
<line x1="422.6" y1="454.2" x2="422.6" y2="451.0" stroke="#383838" stroke-width="1.4"/>
<line x1="462.9" y1="454.2" x2="462.9" y2="451.0" stroke="#383838" stroke-width="1.4"/>
<line x1="503.3" y1="454.2" x2="503.3" y2="451.0" stroke="#383838" stroke-width="1.4"/>
<line x1="543.6" y1="454.2" x2="543.6" y2="451.0" stroke="#383838" stroke-width="1.4"/>
<line x1="583.9" y1="454.2" x2="583.9" y2="451.0" stroke="#383838" stroke-width="1.4"/>
<line x1="624.2" y1="454.2" x2="624.2" y2="451.0" stroke="#383838" stroke-width="1.4"/>
<text x="353.60" y="275.7" font-family="'Liberation Sans', sans-serif" font-size="21.5" fill="#1a1a1a">5</text>
<text x="365.56" y="275.7" font-family="'Liberation Sans', sans-serif" font-size="21.5" fill="#1a1a1a">0</text>
<text x="353.40" y="396.0" font-family="'Liberation Sans', sans-serif" font-size="21.5" fill="#1a1a1a">4</text>
<text x="365.36" y="396.0" font-family="'Liberation Sans', sans-serif" font-size="21.5" fill="#1a1a1a">0</text>
<text x="379.60" y="477.6" font-family="'Liberation Sans', sans-serif" font-size="21.2" fill="#1a1a1a">0</text>
<path d="M463.11,477.60 L463.11,462.57 L461.56,462.57 C461.35,463.82 460.50,465.09 457.51,465.35 L457.51,466.79 L461.26,466.79 L461.26,477.60 Z" fill="#1a1a1a"/>
<text x="538.10" y="477.6" font-family="'Liberation Sans', sans-serif" font-size="21.2" fill="#1a1a1a">2</text>
<text x="615.90" y="477.6" font-family="'Liberation Sans', sans-serif" font-size="21.2" fill="#1a1a1a">3</text>
<text x="630.2" y="457.8" font-family="'Liberation Sans', sans-serif" font-size="21.2" fill="#1a1a1a">x</text>
<path d="M648.51,457.80 L648.51,442.77 L646.96,442.77 C646.75,444.02 645.90,445.29 642.91,445.55 L642.91,446.99 L646.66,446.99 L646.66,457.80 Z" fill="#1a1a1a"/>
<text x="652.39" y="457.8" font-family="'Liberation Sans', sans-serif" font-size="21.2" fill="#1a1a1a">0</text>
<text x="664.3" y="450.8" font-family="'Liberation Sans', sans-serif" font-size="12.5" fill="#1a1a1a">-3</text>
<text x="410.9" y="502.2" font-family="'Liberation Sans', sans-serif" font-size="21" fill="#1a1a1a" textLength="154.39" lengthAdjust="spacingAndGlyphs">Rec. exc. weight</text>
<g transform="translate(572.5,492.0) scale(1.0,1.0)"><path d="M0.4,4.0 C0.9,1.6 2.2,0.5 3.0,0.7 C3.9,0.9 3.9,2.2 3.5,3.6 C3.0,5.2 2.4,6.6 2.4,8.0 C2.4,9.2 3.2,9.9 4.2,9.9 C5.6,9.9 6.6,8.9 7.1,7.6 M8.4,1.2 L7.2,7.0 C6.9,8.6 7.4,9.9 9.0,9.9 C10.6,9.9 11.8,8.4 12.5,6.2 C13.0,4.4 13.2,2.8 12.8,1.6" fill="none" stroke="#1a1a1a" stroke-width="1.35" stroke-linecap="round"/><ellipse cx="12.45" cy="1.7" rx="0.95" ry="1.1" fill="#1a1a1a"/></g>
<text x="587.6" y="508.9" font-family="'Liberation Sans', sans-serif" font-size="12.6" fill="#1a1a1a" stroke="#1a1a1a" stroke-width="0.35">E</text>
<text transform="translate(343.4,438.3) rotate(-90)" font-family="'Liberation Sans', sans-serif" font-size="21.2" fill="#1a1a1a">Linear Fisher info. (%)</text>
<line x1="382.5" y1="272.8" x2="623.5" y2="272.8" stroke="#262626" stroke-width="2" stroke-dasharray="14 14.2"/>
<polyline points="382.3,272.8 422.6,301.0 462.9,322.0 503.3,341.5 543.6,366.3 583.9,390.5 624.2,411.8" fill="none" stroke="#3b7cc3" stroke-width="2.1"/>
<path d="M382.3,253.7 L382.3,291.9 M379.7,253.7 L384.9,253.7 M379.7,291.9 L384.9,291.9" stroke="#3b7cc3" stroke-width="1.7" fill="none"/>
<circle cx="382.3" cy="272.8" r="3.2" fill="none" stroke="#3b7cc3" stroke-width="1.6"/>
<path d="M422.6,280.7 L422.6,321.3 M420.0,280.7 L425.2,280.7 M420.0,321.3 L425.2,321.3" stroke="#3b7cc3" stroke-width="1.7" fill="none"/>
<circle cx="422.6" cy="301.0" r="3.2" fill="none" stroke="#3b7cc3" stroke-width="1.6"/>
<path d="M462.9,300.0 L462.9,344.0 M460.3,300.0 L465.5,300.0 M460.3,344.0 L465.5,344.0" stroke="#3b7cc3" stroke-width="1.7" fill="none"/>
<circle cx="462.9" cy="322.0" r="3.2" fill="none" stroke="#3b7cc3" stroke-width="1.6"/>
<path d="M503.3,317.1 L503.3,365.9 M500.7,317.1 L505.9,317.1 M500.7,365.9 L505.9,365.9" stroke="#3b7cc3" stroke-width="1.7" fill="none"/>
<circle cx="503.3" cy="341.5" r="3.2" fill="none" stroke="#3b7cc3" stroke-width="1.6"/>
<path d="M543.6,341.1 L543.6,391.5 M541.0,341.1 L546.2,341.1 M541.0,391.5 L546.2,391.5" stroke="#3b7cc3" stroke-width="1.7" fill="none"/>
<circle cx="543.6" cy="366.3" r="3.2" fill="none" stroke="#3b7cc3" stroke-width="1.6"/>
<path d="M583.9,373.3 L583.9,407.7 M581.3,373.3 L586.5,373.3 M581.3,407.7 L586.5,407.7" stroke="#3b7cc3" stroke-width="1.7" fill="none"/>
<circle cx="583.9" cy="390.5" r="3.2" fill="none" stroke="#3b7cc3" stroke-width="1.6"/>
<path d="M624.2,391.8 L624.2,431.8 M621.6,391.8 L626.8,391.8 M621.6,431.8 L626.8,431.8" stroke="#3b7cc3" stroke-width="1.7" fill="none"/>
<circle cx="624.2" cy="411.8" r="3.2" fill="none" stroke="#3b7cc3" stroke-width="1.6"/>
<polyline points="382.3,272.8 422.6,280.7 462.9,290.6 503.3,302.3 543.6,312.8 583.9,333.0 624.2,346.2" fill="none" stroke="#d84c12" stroke-width="2.1"/>
<path d="M382.3,251.7 L382.3,293.9 M379.7,251.7 L384.9,251.7 M379.7,293.9 L384.9,293.9" stroke="#d84c12" stroke-width="1.7" fill="none"/>
<circle cx="382.3" cy="272.8" r="3.2" fill="none" stroke="#d84c12" stroke-width="1.6"/>
<path d="M422.6,255.2 L422.6,306.2 M420.0,255.2 L425.2,255.2 M420.0,306.2 L425.2,306.2" stroke="#d84c12" stroke-width="1.7" fill="none"/>
<circle cx="422.6" cy="280.7" r="3.2" fill="none" stroke="#d84c12" stroke-width="1.6"/>
<path d="M462.9,270.1 L462.9,311.1 M460.3,270.1 L465.5,270.1 M460.3,311.1 L465.5,311.1" stroke="#d84c12" stroke-width="1.7" fill="none"/>
<circle cx="462.9" cy="290.6" r="3.2" fill="none" stroke="#d84c12" stroke-width="1.6"/>
<path d="M503.3,281.2 L503.3,323.4 M500.7,281.2 L505.9,281.2 M500.7,323.4 L505.9,323.4" stroke="#d84c12" stroke-width="1.7" fill="none"/>
<circle cx="503.3" cy="302.3" r="3.2" fill="none" stroke="#d84c12" stroke-width="1.6"/>
<path d="M543.6,291.1 L543.6,334.5 M541.0,291.1 L546.2,291.1 M541.0,334.5 L546.2,334.5" stroke="#d84c12" stroke-width="1.7" fill="none"/>
<circle cx="543.6" cy="312.8" r="3.2" fill="none" stroke="#d84c12" stroke-width="1.6"/>
<path d="M583.9,312.0 L583.9,354.0 M581.3,312.0 L586.5,312.0 M581.3,354.0 L586.5,354.0" stroke="#d84c12" stroke-width="1.7" fill="none"/>
<circle cx="583.9" cy="333.0" r="3.2" fill="none" stroke="#d84c12" stroke-width="1.6"/>
<path d="M624.2,324.7 L624.2,367.7 M621.6,324.7 L626.8,324.7 M621.6,367.7 L626.8,367.7" stroke="#d84c12" stroke-width="1.7" fill="none"/>
<circle cx="624.2" cy="346.2" r="3.2" fill="none" stroke="#d84c12" stroke-width="1.6"/>
<polyline points="382.3,272.8 422.6,274.8 462.9,276.8 503.3,278.1 543.6,283.4 583.9,292.5 624.2,305.6" fill="none" stroke="#eba800" stroke-width="2.1"/>
<path d="M382.3,246.0 L382.3,299.6 M379.7,246.0 L384.9,246.0 M379.7,299.6 L384.9,299.6" stroke="#eba800" stroke-width="1.7" fill="none"/>
<circle cx="382.3" cy="272.8" r="3.2" fill="none" stroke="#eba800" stroke-width="1.6"/>
<path d="M422.6,250.6 L422.6,299.0 M420.0,250.6 L425.2,250.6 M420.0,299.0 L425.2,299.0" stroke="#eba800" stroke-width="1.7" fill="none"/>
<circle cx="422.6" cy="274.8" r="3.2" fill="none" stroke="#eba800" stroke-width="1.6"/>
<path d="M462.9,258.5 L462.9,295.1 M460.3,258.5 L465.5,258.5 M460.3,295.1 L465.5,295.1" stroke="#eba800" stroke-width="1.7" fill="none"/>
<circle cx="462.9" cy="276.8" r="3.2" fill="none" stroke="#eba800" stroke-width="1.6"/>
<path d="M503.3,255.5 L503.3,300.7 M500.7,255.5 L505.9,255.5 M500.7,300.7 L505.9,300.7" stroke="#eba800" stroke-width="1.7" fill="none"/>
<circle cx="503.3" cy="278.1" r="3.2" fill="none" stroke="#eba800" stroke-width="1.6"/>
<path d="M543.6,264.7 L543.6,302.1 M541.0,264.7 L546.2,264.7 M541.0,302.1 L546.2,302.1" stroke="#eba800" stroke-width="1.7" fill="none"/>
<circle cx="543.6" cy="283.4" r="3.2" fill="none" stroke="#eba800" stroke-width="1.6"/>
<path d="M583.9,272.5 L583.9,312.5 M581.3,272.5 L586.5,272.5 M581.3,312.5 L586.5,312.5" stroke="#eba800" stroke-width="1.7" fill="none"/>
<circle cx="583.9" cy="292.5" r="3.2" fill="none" stroke="#eba800" stroke-width="1.6"/>
<path d="M624.2,284.9 L624.2,326.3 M621.6,284.9 L626.8,284.9 M621.6,326.3 L626.8,326.3" stroke="#eba800" stroke-width="1.7" fill="none"/>
<circle cx="624.2" cy="305.6" r="3.2" fill="none" stroke="#eba800" stroke-width="1.6"/>
<polyline points="382.3,272.8 422.6,274.2 462.9,275.8 503.3,277.2 543.6,277.5 583.9,281.1 624.2,288.3" fill="none" stroke="#8424a6" stroke-width="2.1"/>
<path d="M382.3,248.6 L382.3,297.0 M379.7,248.6 L384.9,248.6 M379.7,297.0 L384.9,297.0" stroke="#8424a6" stroke-width="1.7" fill="none"/>
<circle cx="382.3" cy="272.8" r="3.2" fill="none" stroke="#8424a6" stroke-width="1.6"/>
<path d="M422.6,253.4 L422.6,295.0 M420.0,253.4 L425.2,253.4 M420.0,295.0 L425.2,295.0" stroke="#8424a6" stroke-width="1.7" fill="none"/>
<circle cx="422.6" cy="274.2" r="3.2" fill="none" stroke="#8424a6" stroke-width="1.6"/>
<path d="M462.9,251.3 L462.9,300.3 M460.3,251.3 L465.5,251.3 M460.3,300.3 L465.5,300.3" stroke="#8424a6" stroke-width="1.7" fill="none"/>
<circle cx="462.9" cy="275.8" r="3.2" fill="none" stroke="#8424a6" stroke-width="1.6"/>
<path d="M503.3,254.2 L503.3,300.2 M500.7,254.2 L505.9,254.2 M500.7,300.2 L505.9,300.2" stroke="#8424a6" stroke-width="1.7" fill="none"/>
<circle cx="503.3" cy="277.2" r="3.2" fill="none" stroke="#8424a6" stroke-width="1.6"/>
<path d="M543.6,250.3 L543.6,304.7 M541.0,250.3 L546.2,250.3 M541.0,304.7 L546.2,304.7" stroke="#8424a6" stroke-width="1.7" fill="none"/>
<circle cx="543.6" cy="277.5" r="3.2" fill="none" stroke="#8424a6" stroke-width="1.6"/>
<path d="M583.9,256.9 L583.9,305.3 M581.3,256.9 L586.5,256.9 M581.3,305.3 L586.5,305.3" stroke="#8424a6" stroke-width="1.7" fill="none"/>
<circle cx="583.9" cy="281.1" r="3.2" fill="none" stroke="#8424a6" stroke-width="1.6"/>
<path d="M624.2,256.5 L624.2,320.1 M621.6,256.5 L626.8,256.5 M621.6,320.1 L626.8,320.1" stroke="#8424a6" stroke-width="1.7" fill="none"/>
<circle cx="624.2" cy="288.3" r="3.2" fill="none" stroke="#8424a6" stroke-width="1.6"/>
<line x1="382.3" y1="212.3" x2="382.3" y2="454.2" stroke="#383838" stroke-width="1.6"/>
<circle cx="382.5" cy="272.8" r="3.2" fill="none" stroke="#8424a6" stroke-width="1.6"/>
<text x="580.4" y="222.0" font-family="'Liberation Sans', sans-serif" font-size="20.3" fill="#000" textLength="95.63" lengthAdjust="spacingAndGlyphs" stroke="#000" stroke-width="0.2">Number of</text>
<text x="575.6" y="247.3" font-family="'Liberation Sans', sans-serif" font-size="20.3" fill="#000" textLength="113.4" lengthAdjust="spacingAndGlyphs" stroke="#000" stroke-width="0.2">exc. neurons</text>
<path d="M648.5,273.2 C646,269.6 644.2,268.9 642.6,268.9 C640.5,268.9 639.6,271 639.6,273.2 C639.6,275.4 640.5,277.5 642.6,277.5 C644.2,277.5 646,276.8 648.5,273.2 C651,269.6 652.8,268.9 654.4,268.9 C656.5,268.9 657.4,271 657.4,273.2 C657.4,275.4 656.5,277.5 654.4,277.5 C652.8,277.5 651,276.8 648.5,273.2 Z" fill="none" stroke="#000" stroke-width="1.6"/>
<path d="M646.04,300.60 L646.04,286.21 L644.50,286.21 C644.29,287.41 643.45,288.62 640.49,288.87 L640.49,290.25 L644.21,290.25 L644.21,300.60 Z" fill="#8424a6" stroke="#8424a6" stroke-width="0.3"/>
<text x="649.89" y="300.6" font-family="'Liberation Sans', sans-serif" font-size="20.3" fill="#8424a6" textLength="11.69" lengthAdjust="spacingAndGlyphs">8</text>
<text x="661.57" y="300.6" font-family="'Liberation Sans', sans-serif" font-size="20.3" fill="#8424a6" textLength="11.69" lengthAdjust="spacingAndGlyphs">0</text>
<text x="673.26" y="300.6" font-family="'Liberation Sans', sans-serif" font-size="20.3" fill="#8424a6" textLength="11.69" lengthAdjust="spacingAndGlyphs">0</text>
<text x="637.90" y="323.0" font-family="'Liberation Sans', sans-serif" font-size="20.3" fill="#eba800" textLength="11.69" lengthAdjust="spacingAndGlyphs">9</text>
<text x="649.59" y="323.0" font-family="'Liberation Sans', sans-serif" font-size="20.3" fill="#eba800" textLength="11.69" lengthAdjust="spacingAndGlyphs">0</text>
<text x="661.27" y="323.0" font-family="'Liberation Sans', sans-serif" font-size="20.3" fill="#eba800" textLength="11.69" lengthAdjust="spacingAndGlyphs">0</text>
<text x="637.90" y="357.7" font-family="'Liberation Sans', sans-serif" font-size="20.3" fill="#d84c12" textLength="11.69" lengthAdjust="spacingAndGlyphs">3</text>
<text x="649.59" y="357.7" font-family="'Liberation Sans', sans-serif" font-size="20.3" fill="#d84c12" textLength="11.69" lengthAdjust="spacingAndGlyphs">6</text>
<text x="661.27" y="357.7" font-family="'Liberation Sans', sans-serif" font-size="20.3" fill="#d84c12" textLength="11.69" lengthAdjust="spacingAndGlyphs">0</text>
<path d="M646.04,422.50 L646.04,408.11 L644.50,408.11 C644.29,409.31 643.45,410.52 640.49,410.77 L640.49,412.15 L644.21,412.15 L644.21,422.50 Z" fill="#3b7cc3" stroke="#3b7cc3" stroke-width="0.3"/>
<text x="649.89" y="422.5" font-family="'Liberation Sans', sans-serif" font-size="20.3" fill="#3b7cc3" textLength="11.69" lengthAdjust="spacingAndGlyphs">8</text>
<text x="661.57" y="422.5" font-family="'Liberation Sans', sans-serif" font-size="20.3" fill="#3b7cc3" textLength="11.69" lengthAdjust="spacingAndGlyphs">0</text></svg>
</body></html>
